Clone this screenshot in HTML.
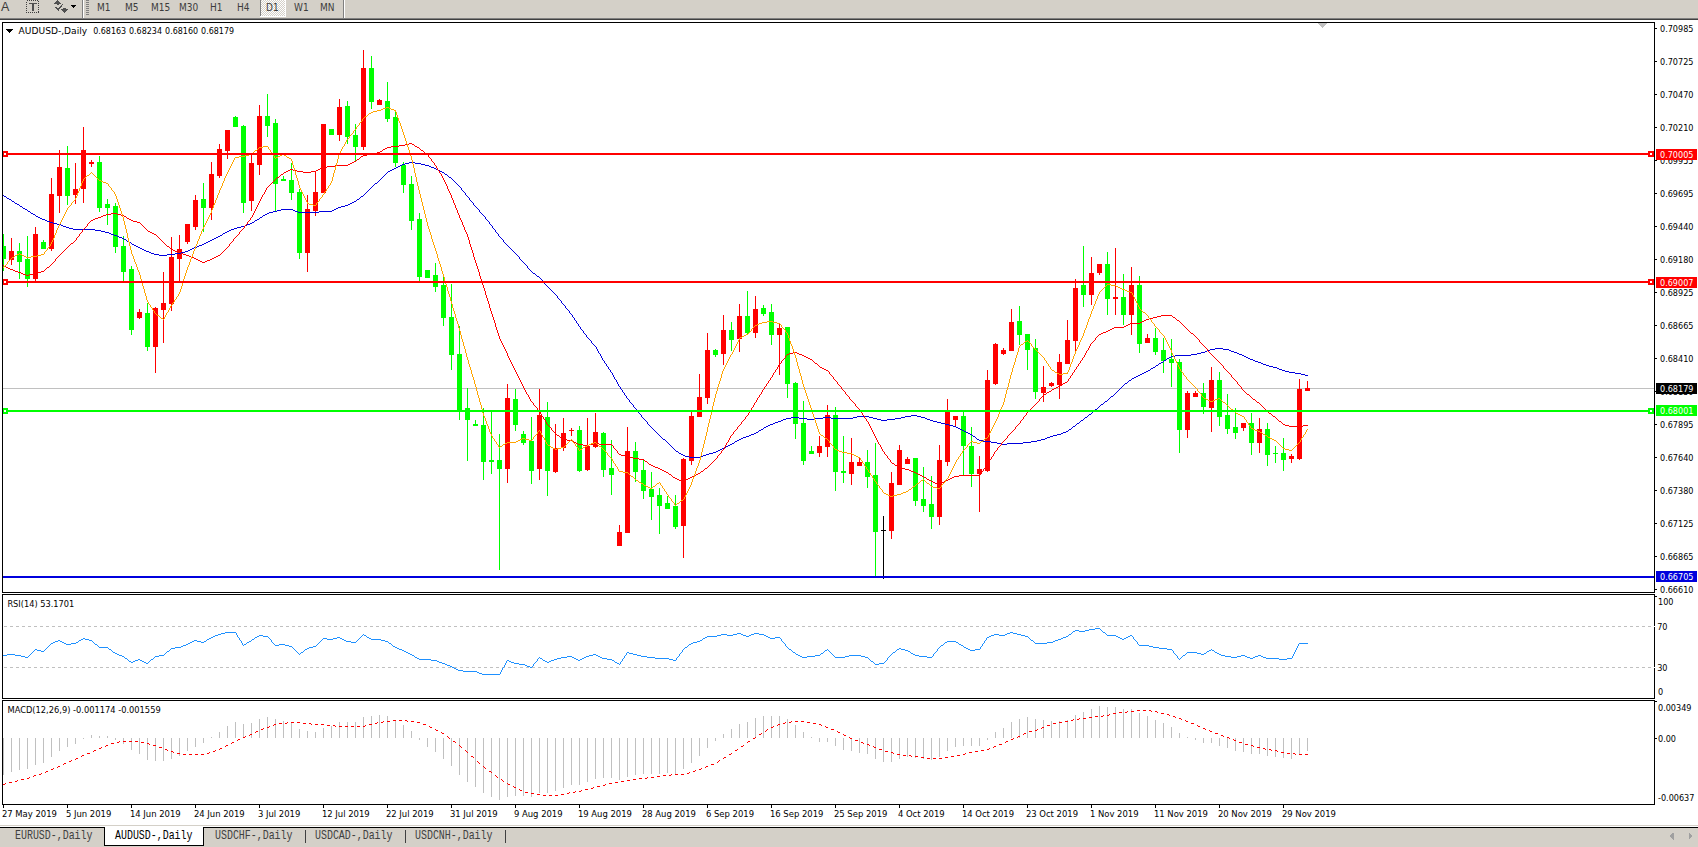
<!DOCTYPE html>
<html><head><meta charset="utf-8"><title>AUDUSD-,Daily</title>
<style>
html,body{margin:0;padding:0;background:#fff;}
body{width:1698px;height:847px;overflow:hidden;}
svg{display:block;}
.ax{font-family:"DejaVu Sans","Liberation Sans",sans-serif;font-stretch:condensed;font-size:9px;fill:#000;}
.tb{font-family:"DejaVu Sans","Liberation Sans",sans-serif;font-stretch:condensed;font-size:10px;fill:#3c3c3c;}
.tab{font-family:"Liberation Mono",monospace;font-size:10.5px;}
</style></head><body>
<svg width="1698" height="847" viewBox="0 0 1698 847" shape-rendering="crispEdges">
<defs><clipPath id="mainclip"><rect x="3" y="23" width="1651" height="569"/></clipPath></defs>
<rect x="0" y="0" width="1698" height="847" fill="#ffffff"/>
<rect x="0" y="0" width="1698" height="18" fill="#d4d0c8"/>
<rect x="0" y="18" width="1698" height="1" fill="#808080"/>
<rect x="0" y="19" width="1698" height="1" fill="#404040"/>
<text x="1" y="11" font-family="Liberation Sans, sans-serif" font-size="12.5" fill="#3a3a3a">A</text>
<rect x="26.5" y="0.5" width="12" height="12" fill="none" stroke="#404040" stroke-width="1" stroke-dasharray="1,1"/>
<rect x="29" y="3" width="8" height="1.4" fill="#505050"/>
<rect x="32" y="3" width="2.2" height="8" fill="#505050"/>
<path d="M54,3.8 L57.6,0 L61.2,3.8 Z" fill="#505050"/><rect x="56.5" y="3.5" width="2.4" height="1.3" fill="#505050"/>
<path d="M55.5,7 L58.3,9.8 L62.5,4.3" fill="none" stroke="#505050" stroke-width="1.3"/>
<path d="M61.2,9.4 L64.4,13 L67.8,9.4 Z" fill="#505050"/><rect x="63" y="8.2" width="2.6" height="1.4" fill="#505050"/>
<path d="M70.8,5 L76.2,5 L73.5,7.9 Z" fill="#000"/>
<rect x="82" y="0" width="1" height="18" fill="#808080"/><rect x="83" y="0" width="1" height="18" fill="#ffffff"/>
<rect x="86" y="0" width="3" height="1" fill="#808080"/>
<rect x="86" y="2" width="3" height="1" fill="#808080"/>
<rect x="86" y="4" width="3" height="1" fill="#808080"/>
<rect x="86" y="6" width="3" height="1" fill="#808080"/>
<rect x="86" y="8" width="3" height="1" fill="#808080"/>
<rect x="86" y="10" width="3" height="1" fill="#808080"/>
<rect x="86" y="12" width="3" height="1" fill="#808080"/>
<rect x="86" y="14" width="3" height="1" fill="#808080"/>
<defs><pattern id="dith" width="2" height="2" patternUnits="userSpaceOnUse"><rect width="2" height="2" fill="#d4d0c8"/><rect x="0" y="0" width="1" height="1" fill="#ffffff"/><rect x="1" y="1" width="1" height="1" fill="#ffffff"/></pattern></defs>
<rect x="260" y="0" width="26" height="17" fill="url(#dith)"/>
<rect x="260" y="0" width="1" height="17" fill="#808080"/><rect x="260" y="16" width="26" height="1" fill="#ffffff"/><rect x="285" y="0" width="1" height="17" fill="#ffffff"/>
<rect x="343" y="0" width="1" height="18" fill="#808080"/><rect x="344" y="0" width="1" height="18" fill="#ffffff"/>
<text x="97" y="10.5" class="tb">M1</text>
<text x="125" y="10.5" class="tb">M5</text>
<text x="151" y="10.5" class="tb">M15</text>
<text x="179" y="10.5" class="tb">M30</text>
<text x="210" y="10.5" class="tb">H1</text>
<text x="237" y="10.5" class="tb">H4</text>
<text x="266" y="10.5" class="tb">D1</text>
<text x="294" y="10.5" class="tb">W1</text>
<text x="320" y="10.5" class="tb">MN</text>
<rect x="3" y="388" width="1651" height="1" fill="#c0c0c0"/>
<rect x="3" y="234" width="1" height="37" fill="#00ff00"/>
<rect x="3" y="246" width="3" height="13" fill="#00ff00"/>
<rect x="11" y="238" width="1" height="27" fill="#ff0000"/>
<rect x="9" y="251" width="5" height="9" fill="#ff0000"/>
<rect x="19" y="243" width="1" height="36" fill="#00ff00"/>
<rect x="17" y="251" width="5" height="11" fill="#00ff00"/>
<rect x="27" y="236" width="1" height="51" fill="#00ff00"/>
<rect x="25" y="259" width="5" height="20" fill="#00ff00"/>
<rect x="35" y="227" width="1" height="56" fill="#ff0000"/>
<rect x="33" y="234" width="5" height="45" fill="#ff0000"/>
<rect x="43" y="240" width="1" height="9" fill="#00ff00"/>
<rect x="41" y="242" width="5" height="7" fill="#00ff00"/>
<rect x="51" y="178" width="1" height="73" fill="#ff0000"/>
<rect x="49" y="194" width="5" height="55" fill="#ff0000"/>
<rect x="59" y="150" width="1" height="63" fill="#ff0000"/>
<rect x="57" y="167" width="5" height="29" fill="#ff0000"/>
<rect x="67" y="146" width="1" height="59" fill="#00ff00"/>
<rect x="65" y="168" width="5" height="28" fill="#00ff00"/>
<rect x="75" y="163" width="1" height="41" fill="#ff0000"/>
<rect x="73" y="189" width="5" height="6" fill="#ff0000"/>
<rect x="83" y="127" width="1" height="76" fill="#ff0000"/>
<rect x="81" y="150" width="5" height="39" fill="#ff0000"/>
<rect x="91" y="160" width="1" height="7" fill="#ff0000"/>
<rect x="89" y="162" width="5" height="2" fill="#ff0000"/>
<rect x="99" y="156" width="1" height="56" fill="#00ff00"/>
<rect x="97" y="162" width="5" height="46" fill="#00ff00"/>
<rect x="107" y="199" width="1" height="26" fill="#00ff00"/>
<rect x="105" y="204" width="5" height="4" fill="#00ff00"/>
<rect x="115" y="203" width="1" height="50" fill="#00ff00"/>
<rect x="113" y="206" width="5" height="41" fill="#00ff00"/>
<rect x="123" y="236" width="1" height="45" fill="#00ff00"/>
<rect x="121" y="246" width="5" height="26" fill="#00ff00"/>
<rect x="131" y="266" width="1" height="69" fill="#00ff00"/>
<rect x="129" y="269" width="5" height="61" fill="#00ff00"/>
<rect x="139" y="309" width="1" height="10" fill="#ff0000"/>
<rect x="137" y="312" width="5" height="6" fill="#ff0000"/>
<rect x="147" y="303" width="1" height="48" fill="#00ff00"/>
<rect x="145" y="313" width="5" height="34" fill="#00ff00"/>
<rect x="155" y="307" width="1" height="66" fill="#ff0000"/>
<rect x="153" y="308" width="5" height="39" fill="#ff0000"/>
<rect x="163" y="272" width="1" height="71" fill="#ff0000"/>
<rect x="161" y="303" width="5" height="7" fill="#ff0000"/>
<rect x="171" y="237" width="1" height="74" fill="#ff0000"/>
<rect x="169" y="257" width="5" height="47" fill="#ff0000"/>
<rect x="179" y="235" width="1" height="46" fill="#ff0000"/>
<rect x="177" y="249" width="5" height="10" fill="#ff0000"/>
<rect x="187" y="224" width="1" height="20" fill="#ff0000"/>
<rect x="185" y="224" width="5" height="18" fill="#ff0000"/>
<rect x="195" y="195" width="1" height="35" fill="#ff0000"/>
<rect x="193" y="200" width="5" height="27" fill="#ff0000"/>
<rect x="203" y="183" width="1" height="49" fill="#00ff00"/>
<rect x="201" y="199" width="5" height="9" fill="#00ff00"/>
<rect x="211" y="162" width="1" height="58" fill="#ff0000"/>
<rect x="209" y="174" width="5" height="34" fill="#ff0000"/>
<rect x="219" y="144" width="1" height="34" fill="#ff0000"/>
<rect x="217" y="149" width="5" height="27" fill="#ff0000"/>
<rect x="227" y="130" width="1" height="29" fill="#ff0000"/>
<rect x="225" y="130" width="5" height="21" fill="#ff0000"/>
<rect x="235" y="116" width="1" height="11" fill="#00ff00"/>
<rect x="233" y="117" width="5" height="10" fill="#00ff00"/>
<rect x="243" y="125" width="1" height="88" fill="#00ff00"/>
<rect x="241" y="126" width="5" height="77" fill="#00ff00"/>
<rect x="251" y="155" width="1" height="56" fill="#ff0000"/>
<rect x="249" y="163" width="5" height="38" fill="#ff0000"/>
<rect x="259" y="105" width="1" height="70" fill="#ff0000"/>
<rect x="257" y="116" width="5" height="49" fill="#ff0000"/>
<rect x="267" y="94" width="1" height="43" fill="#00ff00"/>
<rect x="265" y="116" width="5" height="10" fill="#00ff00"/>
<rect x="275" y="119" width="1" height="93" fill="#00ff00"/>
<rect x="273" y="123" width="5" height="61" fill="#00ff00"/>
<rect x="283" y="176" width="1" height="5" fill="#00ff00"/>
<rect x="281" y="179" width="5" height="2" fill="#00ff00"/>
<rect x="291" y="163" width="1" height="37" fill="#00ff00"/>
<rect x="289" y="180" width="5" height="13" fill="#00ff00"/>
<rect x="299" y="189" width="1" height="70" fill="#00ff00"/>
<rect x="297" y="192" width="5" height="61" fill="#00ff00"/>
<rect x="307" y="195" width="1" height="77" fill="#ff0000"/>
<rect x="305" y="209" width="5" height="44" fill="#ff0000"/>
<rect x="315" y="171" width="1" height="45" fill="#ff0000"/>
<rect x="313" y="192" width="5" height="19" fill="#ff0000"/>
<rect x="323" y="124" width="1" height="69" fill="#ff0000"/>
<rect x="321" y="124" width="5" height="69" fill="#ff0000"/>
<rect x="331" y="129" width="1" height="6" fill="#00ff00"/>
<rect x="329" y="129" width="5" height="6" fill="#00ff00"/>
<rect x="339" y="99" width="1" height="42" fill="#ff0000"/>
<rect x="337" y="107" width="5" height="28" fill="#ff0000"/>
<rect x="347" y="101" width="1" height="43" fill="#00ff00"/>
<rect x="345" y="106" width="5" height="31" fill="#00ff00"/>
<rect x="355" y="124" width="1" height="38" fill="#00ff00"/>
<rect x="353" y="135" width="5" height="12" fill="#00ff00"/>
<rect x="363" y="50" width="1" height="100" fill="#ff0000"/>
<rect x="361" y="68" width="5" height="79" fill="#ff0000"/>
<rect x="371" y="56" width="1" height="53" fill="#00ff00"/>
<rect x="369" y="68" width="5" height="34" fill="#00ff00"/>
<rect x="379" y="99" width="1" height="6" fill="#ff0000"/>
<rect x="377" y="100" width="5" height="5" fill="#ff0000"/>
<rect x="387" y="82" width="1" height="40" fill="#00ff00"/>
<rect x="385" y="101" width="5" height="18" fill="#00ff00"/>
<rect x="395" y="111" width="1" height="56" fill="#00ff00"/>
<rect x="393" y="117" width="5" height="46" fill="#00ff00"/>
<rect x="403" y="162" width="1" height="31" fill="#00ff00"/>
<rect x="401" y="165" width="5" height="20" fill="#00ff00"/>
<rect x="411" y="176" width="1" height="54" fill="#00ff00"/>
<rect x="409" y="184" width="5" height="37" fill="#00ff00"/>
<rect x="419" y="213" width="1" height="69" fill="#00ff00"/>
<rect x="417" y="219" width="5" height="58" fill="#00ff00"/>
<rect x="427" y="270" width="1" height="8" fill="#00ff00"/>
<rect x="425" y="270" width="5" height="8" fill="#00ff00"/>
<rect x="435" y="263" width="1" height="29" fill="#00ff00"/>
<rect x="433" y="275" width="5" height="12" fill="#00ff00"/>
<rect x="443" y="274" width="1" height="52" fill="#00ff00"/>
<rect x="441" y="285" width="5" height="33" fill="#00ff00"/>
<rect x="451" y="284" width="1" height="86" fill="#00ff00"/>
<rect x="449" y="317" width="5" height="38" fill="#00ff00"/>
<rect x="459" y="326" width="1" height="94" fill="#00ff00"/>
<rect x="457" y="354" width="5" height="58" fill="#00ff00"/>
<rect x="467" y="388" width="1" height="73" fill="#00ff00"/>
<rect x="465" y="408" width="5" height="12" fill="#00ff00"/>
<rect x="475" y="420" width="1" height="6" fill="#00ff00"/>
<rect x="473" y="424" width="5" height="2" fill="#00ff00"/>
<rect x="483" y="408" width="1" height="72" fill="#00ff00"/>
<rect x="481" y="425" width="5" height="37" fill="#00ff00"/>
<rect x="491" y="412" width="1" height="62" fill="#00ff00"/>
<rect x="489" y="460" width="5" height="2" fill="#00ff00"/>
<rect x="499" y="434" width="1" height="136" fill="#00ff00"/>
<rect x="497" y="460" width="5" height="9" fill="#00ff00"/>
<rect x="507" y="384" width="1" height="99" fill="#ff0000"/>
<rect x="505" y="398" width="5" height="71" fill="#ff0000"/>
<rect x="515" y="389" width="1" height="42" fill="#00ff00"/>
<rect x="513" y="399" width="5" height="26" fill="#00ff00"/>
<rect x="523" y="431" width="1" height="14" fill="#00ff00"/>
<rect x="521" y="434" width="5" height="9" fill="#00ff00"/>
<rect x="531" y="417" width="1" height="67" fill="#00ff00"/>
<rect x="529" y="441" width="5" height="30" fill="#00ff00"/>
<rect x="539" y="389" width="1" height="91" fill="#ff0000"/>
<rect x="537" y="415" width="5" height="54" fill="#ff0000"/>
<rect x="547" y="402" width="1" height="94" fill="#00ff00"/>
<rect x="545" y="417" width="5" height="54" fill="#00ff00"/>
<rect x="555" y="424" width="1" height="49" fill="#ff0000"/>
<rect x="553" y="448" width="5" height="24" fill="#ff0000"/>
<rect x="563" y="418" width="1" height="33" fill="#ff0000"/>
<rect x="561" y="433" width="5" height="15" fill="#ff0000"/>
<rect x="571" y="428" width="1" height="8" fill="#ff0000"/>
<rect x="569" y="430" width="5" height="1" fill="#ff0000"/>
<rect x="579" y="426" width="1" height="46" fill="#00ff00"/>
<rect x="577" y="430" width="5" height="41" fill="#00ff00"/>
<rect x="587" y="418" width="1" height="53" fill="#ff0000"/>
<rect x="585" y="446" width="5" height="24" fill="#ff0000"/>
<rect x="595" y="413" width="1" height="35" fill="#ff0000"/>
<rect x="593" y="432" width="5" height="15" fill="#ff0000"/>
<rect x="603" y="432" width="1" height="45" fill="#00ff00"/>
<rect x="601" y="433" width="5" height="37" fill="#00ff00"/>
<rect x="611" y="440" width="1" height="55" fill="#00ff00"/>
<rect x="609" y="468" width="5" height="7" fill="#00ff00"/>
<rect x="619" y="525" width="1" height="21" fill="#ff0000"/>
<rect x="617" y="532" width="5" height="14" fill="#ff0000"/>
<rect x="627" y="427" width="1" height="106" fill="#ff0000"/>
<rect x="625" y="451" width="5" height="82" fill="#ff0000"/>
<rect x="635" y="442" width="1" height="40" fill="#00ff00"/>
<rect x="633" y="451" width="5" height="21" fill="#00ff00"/>
<rect x="643" y="460" width="1" height="39" fill="#00ff00"/>
<rect x="641" y="470" width="5" height="21" fill="#00ff00"/>
<rect x="651" y="472" width="1" height="48" fill="#00ff00"/>
<rect x="649" y="489" width="5" height="8" fill="#00ff00"/>
<rect x="659" y="488" width="1" height="46" fill="#00ff00"/>
<rect x="657" y="495" width="5" height="11" fill="#00ff00"/>
<rect x="667" y="496" width="1" height="13" fill="#00ff00"/>
<rect x="665" y="503" width="5" height="6" fill="#00ff00"/>
<rect x="675" y="495" width="1" height="34" fill="#00ff00"/>
<rect x="673" y="506" width="5" height="21" fill="#00ff00"/>
<rect x="683" y="458" width="1" height="100" fill="#ff0000"/>
<rect x="681" y="459" width="5" height="67" fill="#ff0000"/>
<rect x="691" y="411" width="1" height="54" fill="#ff0000"/>
<rect x="689" y="416" width="5" height="45" fill="#ff0000"/>
<rect x="699" y="374" width="1" height="43" fill="#ff0000"/>
<rect x="697" y="397" width="5" height="20" fill="#ff0000"/>
<rect x="707" y="333" width="1" height="71" fill="#ff0000"/>
<rect x="705" y="350" width="5" height="48" fill="#ff0000"/>
<rect x="715" y="349" width="1" height="8" fill="#00ff00"/>
<rect x="713" y="350" width="5" height="5" fill="#00ff00"/>
<rect x="723" y="315" width="1" height="50" fill="#ff0000"/>
<rect x="721" y="330" width="5" height="24" fill="#ff0000"/>
<rect x="731" y="322" width="1" height="29" fill="#00ff00"/>
<rect x="729" y="330" width="5" height="10" fill="#00ff00"/>
<rect x="739" y="304" width="1" height="48" fill="#ff0000"/>
<rect x="737" y="316" width="5" height="23" fill="#ff0000"/>
<rect x="747" y="291" width="1" height="43" fill="#00ff00"/>
<rect x="745" y="316" width="5" height="17" fill="#00ff00"/>
<rect x="755" y="296" width="1" height="42" fill="#ff0000"/>
<rect x="753" y="309" width="5" height="24" fill="#ff0000"/>
<rect x="763" y="305" width="1" height="11" fill="#00ff00"/>
<rect x="761" y="308" width="5" height="6" fill="#00ff00"/>
<rect x="771" y="304" width="1" height="41" fill="#00ff00"/>
<rect x="769" y="312" width="5" height="23" fill="#00ff00"/>
<rect x="779" y="324" width="1" height="51" fill="#ff0000"/>
<rect x="777" y="328" width="5" height="7" fill="#ff0000"/>
<rect x="787" y="327" width="1" height="71" fill="#00ff00"/>
<rect x="785" y="327" width="5" height="57" fill="#00ff00"/>
<rect x="795" y="382" width="1" height="57" fill="#00ff00"/>
<rect x="793" y="383" width="5" height="41" fill="#00ff00"/>
<rect x="803" y="401" width="1" height="64" fill="#00ff00"/>
<rect x="801" y="423" width="5" height="38" fill="#00ff00"/>
<rect x="811" y="446" width="1" height="8" fill="#00ff00"/>
<rect x="809" y="451" width="5" height="3" fill="#00ff00"/>
<rect x="819" y="436" width="1" height="21" fill="#ff0000"/>
<rect x="817" y="446" width="5" height="7" fill="#ff0000"/>
<rect x="827" y="405" width="1" height="52" fill="#ff0000"/>
<rect x="825" y="415" width="5" height="32" fill="#ff0000"/>
<rect x="835" y="407" width="1" height="84" fill="#00ff00"/>
<rect x="833" y="415" width="5" height="57" fill="#00ff00"/>
<rect x="843" y="436" width="1" height="47" fill="#00ff00"/>
<rect x="841" y="471" width="5" height="2" fill="#00ff00"/>
<rect x="851" y="438" width="1" height="47" fill="#ff0000"/>
<rect x="849" y="462" width="5" height="12" fill="#ff0000"/>
<rect x="859" y="457" width="1" height="9" fill="#ff0000"/>
<rect x="857" y="462" width="5" height="4" fill="#ff0000"/>
<rect x="867" y="450" width="1" height="38" fill="#00ff00"/>
<rect x="865" y="462" width="5" height="15" fill="#00ff00"/>
<rect x="875" y="443" width="1" height="134" fill="#00ff00"/>
<rect x="873" y="475" width="5" height="57" fill="#00ff00"/>
<rect x="883" y="516" width="1" height="63" fill="#000000"/>
<rect x="881" y="530" width="5" height="1" fill="#000000"/>
<rect x="891" y="472" width="1" height="67" fill="#ff0000"/>
<rect x="889" y="483" width="5" height="48" fill="#ff0000"/>
<rect x="899" y="445" width="1" height="40" fill="#ff0000"/>
<rect x="897" y="450" width="5" height="35" fill="#ff0000"/>
<rect x="907" y="457" width="1" height="7" fill="#ff0000"/>
<rect x="905" y="459" width="5" height="5" fill="#ff0000"/>
<rect x="915" y="458" width="1" height="48" fill="#00ff00"/>
<rect x="913" y="458" width="5" height="43" fill="#00ff00"/>
<rect x="923" y="467" width="1" height="45" fill="#00ff00"/>
<rect x="921" y="499" width="5" height="7" fill="#00ff00"/>
<rect x="931" y="476" width="1" height="53" fill="#00ff00"/>
<rect x="929" y="504" width="5" height="13" fill="#00ff00"/>
<rect x="939" y="445" width="1" height="80" fill="#ff0000"/>
<rect x="937" y="460" width="5" height="57" fill="#ff0000"/>
<rect x="947" y="399" width="1" height="67" fill="#ff0000"/>
<rect x="945" y="412" width="5" height="50" fill="#ff0000"/>
<rect x="955" y="416" width="1" height="11" fill="#ff0000"/>
<rect x="953" y="416" width="5" height="4" fill="#ff0000"/>
<rect x="963" y="412" width="1" height="63" fill="#00ff00"/>
<rect x="961" y="416" width="5" height="30" fill="#00ff00"/>
<rect x="971" y="427" width="1" height="60" fill="#00ff00"/>
<rect x="969" y="446" width="5" height="28" fill="#00ff00"/>
<rect x="979" y="456" width="1" height="56" fill="#ff0000"/>
<rect x="977" y="469" width="5" height="5" fill="#ff0000"/>
<rect x="987" y="370" width="1" height="102" fill="#ff0000"/>
<rect x="985" y="380" width="5" height="91" fill="#ff0000"/>
<rect x="995" y="343" width="1" height="42" fill="#ff0000"/>
<rect x="993" y="344" width="5" height="40" fill="#ff0000"/>
<rect x="1003" y="348" width="1" height="7" fill="#ff0000"/>
<rect x="1001" y="350" width="5" height="4" fill="#ff0000"/>
<rect x="1011" y="309" width="1" height="42" fill="#ff0000"/>
<rect x="1009" y="322" width="5" height="29" fill="#ff0000"/>
<rect x="1019" y="306" width="1" height="39" fill="#00ff00"/>
<rect x="1017" y="321" width="5" height="14" fill="#00ff00"/>
<rect x="1027" y="334" width="1" height="36" fill="#00ff00"/>
<rect x="1025" y="334" width="5" height="16" fill="#00ff00"/>
<rect x="1035" y="339" width="1" height="60" fill="#00ff00"/>
<rect x="1033" y="348" width="5" height="44" fill="#00ff00"/>
<rect x="1043" y="366" width="1" height="36" fill="#ff0000"/>
<rect x="1041" y="387" width="5" height="6" fill="#ff0000"/>
<rect x="1051" y="382" width="1" height="5" fill="#ff0000"/>
<rect x="1049" y="383" width="5" height="3" fill="#ff0000"/>
<rect x="1059" y="354" width="1" height="45" fill="#ff0000"/>
<rect x="1057" y="362" width="5" height="23" fill="#ff0000"/>
<rect x="1067" y="320" width="1" height="44" fill="#ff0000"/>
<rect x="1065" y="340" width="5" height="24" fill="#ff0000"/>
<rect x="1075" y="279" width="1" height="73" fill="#ff0000"/>
<rect x="1073" y="288" width="5" height="53" fill="#ff0000"/>
<rect x="1083" y="246" width="1" height="61" fill="#00ff00"/>
<rect x="1081" y="285" width="5" height="10" fill="#00ff00"/>
<rect x="1091" y="257" width="1" height="48" fill="#ff0000"/>
<rect x="1089" y="273" width="5" height="22" fill="#ff0000"/>
<rect x="1099" y="264" width="1" height="11" fill="#ff0000"/>
<rect x="1097" y="264" width="5" height="9" fill="#ff0000"/>
<rect x="1107" y="252" width="1" height="63" fill="#00ff00"/>
<rect x="1105" y="264" width="5" height="35" fill="#00ff00"/>
<rect x="1115" y="248" width="1" height="67" fill="#ff0000"/>
<rect x="1113" y="297" width="5" height="2" fill="#ff0000"/>
<rect x="1123" y="274" width="1" height="51" fill="#00ff00"/>
<rect x="1121" y="297" width="5" height="18" fill="#00ff00"/>
<rect x="1131" y="267" width="1" height="68" fill="#ff0000"/>
<rect x="1129" y="285" width="5" height="30" fill="#ff0000"/>
<rect x="1139" y="276" width="1" height="77" fill="#00ff00"/>
<rect x="1137" y="285" width="5" height="59" fill="#00ff00"/>
<rect x="1147" y="334" width="1" height="9" fill="#ff0000"/>
<rect x="1145" y="338" width="5" height="5" fill="#ff0000"/>
<rect x="1155" y="328" width="1" height="27" fill="#00ff00"/>
<rect x="1153" y="338" width="5" height="14" fill="#00ff00"/>
<rect x="1163" y="338" width="1" height="35" fill="#00ff00"/>
<rect x="1161" y="350" width="5" height="11" fill="#00ff00"/>
<rect x="1171" y="339" width="1" height="48" fill="#00ff00"/>
<rect x="1169" y="359" width="5" height="4" fill="#00ff00"/>
<rect x="1179" y="359" width="1" height="94" fill="#00ff00"/>
<rect x="1177" y="362" width="5" height="68" fill="#00ff00"/>
<rect x="1187" y="391" width="1" height="47" fill="#ff0000"/>
<rect x="1185" y="393" width="5" height="37" fill="#ff0000"/>
<rect x="1195" y="391" width="1" height="6" fill="#ff0000"/>
<rect x="1193" y="393" width="5" height="4" fill="#ff0000"/>
<rect x="1203" y="383" width="1" height="31" fill="#00ff00"/>
<rect x="1201" y="393" width="5" height="14" fill="#00ff00"/>
<rect x="1211" y="367" width="1" height="65" fill="#ff0000"/>
<rect x="1209" y="380" width="5" height="28" fill="#ff0000"/>
<rect x="1219" y="372" width="1" height="54" fill="#00ff00"/>
<rect x="1217" y="380" width="5" height="37" fill="#00ff00"/>
<rect x="1227" y="394" width="1" height="40" fill="#00ff00"/>
<rect x="1225" y="415" width="5" height="14" fill="#00ff00"/>
<rect x="1235" y="408" width="1" height="31" fill="#00ff00"/>
<rect x="1233" y="427" width="5" height="6" fill="#00ff00"/>
<rect x="1243" y="423" width="1" height="8" fill="#ff0000"/>
<rect x="1241" y="423" width="5" height="5" fill="#ff0000"/>
<rect x="1251" y="413" width="1" height="42" fill="#00ff00"/>
<rect x="1249" y="423" width="5" height="20" fill="#00ff00"/>
<rect x="1259" y="418" width="1" height="35" fill="#ff0000"/>
<rect x="1257" y="429" width="5" height="14" fill="#ff0000"/>
<rect x="1267" y="423" width="1" height="43" fill="#00ff00"/>
<rect x="1265" y="429" width="5" height="26" fill="#00ff00"/>
<rect x="1275" y="446" width="1" height="17" fill="#00ff00"/>
<rect x="1273" y="453" width="5" height="1" fill="#00ff00"/>
<rect x="1283" y="438" width="1" height="33" fill="#00ff00"/>
<rect x="1281" y="453" width="5" height="7" fill="#00ff00"/>
<rect x="1291" y="454" width="1" height="9" fill="#ff0000"/>
<rect x="1289" y="456" width="5" height="3" fill="#ff0000"/>
<rect x="1299" y="379" width="1" height="81" fill="#ff0000"/>
<rect x="1297" y="389" width="5" height="70" fill="#ff0000"/>
<rect x="1307" y="381" width="1" height="10" fill="#ff0000"/>
<rect x="1305" y="388" width="5" height="3" fill="#ff0000"/>
<path d="M409 162h6v1h-6zM405 163h4v1h-4zM415 163h6v1h-6zM402 164h3v1h-3zM421 164h4v1h-4zM400 165h2v1h-2zM425 165h4v1h-4zM398 166h2v1h-2zM429 166h2v1h-2zM396 167h2v1h-2zM431 167h3v1h-3zM394 168h2v1h-2zM434 168h2v1h-2zM392 169h2v1h-2zM436 169h2v1h-2zM390 170h2v1h-2zM438 170h2v1h-2zM388 171h2v1h-2zM440 171h2v1h-2zM442 172h2v1h-2zM445 174h2v1h-2zM449 177h2v1h-2zM375 183h2v1h-2zM4 196h2v1h-2zM361 196h2v1h-2zM7 198h2v1h-2zM9 199h2v1h-2zM357 199h2v1h-2zM12 201h2v1h-2zM354 201h2v1h-2zM352 202h2v1h-2zM15 203h2v1h-2zM350 203h2v1h-2zM17 204h2v1h-2zM348 204h2v1h-2zM345 205h3v1h-3zM20 206h2v1h-2zM341 206h4v1h-4zM338 207h3v1h-3zM23 208h2v1h-2zM336 208h2v1h-2zM25 209h2v1h-2zM281 209h12v1h-12zM334 209h2v1h-2zM277 210h4v1h-4zM293 210h2v1h-2zM332 210h2v1h-2zM28 211h2v1h-2zM273 211h4v1h-4zM295 211h3v1h-3zM319 211h13v1h-13zM269 212h4v1h-4zM298 212h21v1h-21zM31 213h2v1h-2zM267 213h2v1h-2zM33 214h2v1h-2zM265 214h2v1h-2zM263 215h2v1h-2zM36 216h2v1h-2zM38 217h2v1h-2zM260 217h2v1h-2zM40 218h2v1h-2zM42 219h3v1h-3zM257 219h2v1h-2zM45 220h2v1h-2zM255 220h2v1h-2zM47 221h3v1h-3zM50 222h3v1h-3zM252 222h2v1h-2zM53 223h4v1h-4zM250 223h2v1h-2zM57 224h4v1h-4zM247 224h3v1h-3zM61 225h2v1h-2zM245 225h2v1h-2zM63 226h3v1h-3zM241 226h4v1h-4zM66 227h3v1h-3zM237 227h4v1h-4zM69 228h4v1h-4zM234 228h3v1h-3zM73 229h22v1h-22zM231 229h3v1h-3zM95 230h6v1h-6zM229 230h2v1h-2zM101 231h4v1h-4zM227 231h2v1h-2zM105 232h4v1h-4zM225 232h2v1h-2zM109 233h2v1h-2zM223 233h2v1h-2zM111 234h3v1h-3zM114 235h3v1h-3zM220 235h2v1h-2zM117 236h2v1h-2zM218 236h2v1h-2zM119 237h3v1h-3zM216 237h2v1h-2zM122 238h2v1h-2zM214 238h2v1h-2zM124 239h2v1h-2zM212 239h2v1h-2zM210 240h2v1h-2zM127 241h2v1h-2zM208 241h2v1h-2zM129 242h2v1h-2zM206 242h2v1h-2zM204 243h2v1h-2zM132 244h2v1h-2zM202 244h2v1h-2zM134 245h2v1h-2zM199 245h3v1h-3zM136 246h2v1h-2zM197 246h2v1h-2zM138 247h2v1h-2zM194 247h3v1h-3zM140 248h2v1h-2zM192 248h2v1h-2zM142 249h2v1h-2zM190 249h2v1h-2zM144 250h2v1h-2zM188 250h2v1h-2zM146 251h3v1h-3zM185 251h3v1h-3zM149 252h2v1h-2zM181 252h4v1h-4zM151 253h3v1h-3zM175 253h6v1h-6zM154 254h5v1h-5zM167 254h8v1h-8zM159 255h8v1h-8zM533 273h2v1h-2zM537 276h2v1h-2zM1215 348h8v1h-8zM1210 349h5v1h-5zM1223 349h6v1h-6zM1207 350h3v1h-3zM1229 350h2v1h-2zM1205 351h2v1h-2zM1231 351h3v1h-3zM1201 352h4v1h-4zM1234 352h3v1h-3zM1197 353h4v1h-4zM1237 353h2v1h-2zM1191 354h6v1h-6zM1239 354h3v1h-3zM1175 355h16v1h-16zM1242 355h2v1h-2zM1171 356h4v1h-4zM1244 356h2v1h-2zM1169 357h2v1h-2zM1246 357h2v1h-2zM1167 358h2v1h-2zM1248 358h2v1h-2zM1250 359h3v1h-3zM1164 360h2v1h-2zM1253 360h2v1h-2zM1255 361h3v1h-3zM1161 362h2v1h-2zM1258 362h3v1h-3zM1159 363h2v1h-2zM1261 363h2v1h-2zM1263 364h3v1h-3zM1156 365h2v1h-2zM1266 365h3v1h-3zM1269 366h4v1h-4zM1153 367h2v1h-2zM1273 367h4v1h-4zM1151 368h2v1h-2zM1277 368h2v1h-2zM1279 369h3v1h-3zM1148 370h2v1h-2zM1282 370h3v1h-3zM1146 371h2v1h-2zM1285 371h4v1h-4zM1144 372h2v1h-2zM1289 372h6v1h-6zM1142 373h2v1h-2zM1295 373h6v1h-6zM1140 374h2v1h-2zM1301 374h4v1h-4zM1138 375h2v1h-2zM1305 375h3v1h-3zM1136 376h2v1h-2zM1134 377h2v1h-2zM1132 378h2v1h-2zM1129 380h2v1h-2zM1125 383h2v1h-2zM1111 396h2v1h-2zM1105 401h2v1h-2zM1101 404h2v1h-2zM1095 409h2v1h-2zM1089 414h2v1h-2zM911 415h6v1h-6zM857 416h12v1h-12zM905 416h6v1h-6zM917 416h4v1h-4zM791 417h8v1h-8zM823 417h8v1h-8zM853 417h4v1h-4zM869 417h4v1h-4zM901 417h4v1h-4zM921 417h4v1h-4zM1085 417h2v1h-2zM786 418h5v1h-5zM799 418h8v1h-8zM815 418h8v1h-8zM831 418h22v1h-22zM873 418h4v1h-4zM895 418h6v1h-6zM925 418h2v1h-2zM783 419h3v1h-3zM807 419h8v1h-8zM877 419h4v1h-4zM887 419h8v1h-8zM927 419h3v1h-3zM781 420h2v1h-2zM881 420h6v1h-6zM930 420h3v1h-3zM1081 420h2v1h-2zM778 421h3v1h-3zM933 421h4v1h-4zM775 422h3v1h-3zM937 422h4v1h-4zM773 423h2v1h-2zM941 423h4v1h-4zM1077 423h2v1h-2zM770 424h3v1h-3zM945 424h4v1h-4zM768 425h2v1h-2zM949 425h4v1h-4zM766 426h2v1h-2zM953 426h3v1h-3zM1073 426h2v1h-2zM764 427h2v1h-2zM956 427h2v1h-2zM958 428h2v1h-2zM761 429h2v1h-2zM960 429h2v1h-2zM1069 429h2v1h-2zM759 430h2v1h-2zM962 430h2v1h-2zM964 431h2v1h-2zM1066 431h2v1h-2zM756 432h2v1h-2zM966 432h2v1h-2zM1063 432h3v1h-3zM754 433h2v1h-2zM968 433h2v1h-2zM1061 433h2v1h-2zM751 434h3v1h-3zM970 434h2v1h-2zM1057 434h4v1h-4zM749 435h2v1h-2zM1053 435h4v1h-4zM746 436h3v1h-3zM973 436h2v1h-2zM1050 436h3v1h-3zM743 437h3v1h-3zM1047 437h3v1h-3zM741 438h2v1h-2zM1045 438h2v1h-2zM663 439h2v1h-2zM739 439h2v1h-2zM977 439h2v1h-2zM1041 439h4v1h-4zM737 440h2v1h-2zM979 440h4v1h-4zM1037 440h4v1h-4zM735 441h2v1h-2zM983 441h8v1h-8zM1031 441h6v1h-6zM991 442h6v1h-6zM1023 442h8v1h-8zM732 443h2v1h-2zM997 443h4v1h-4zM1007 443h16v1h-16zM730 444h2v1h-2zM1001 444h6v1h-6zM728 445h2v1h-2zM726 446h2v1h-2zM724 447h2v1h-2zM722 448h2v1h-2zM720 449h2v1h-2zM718 450h2v1h-2zM676 451h2v1h-2zM716 451h2v1h-2zM713 452h3v1h-3zM679 453h2v1h-2zM709 453h4v1h-4zM681 454h2v1h-2zM706 454h3v1h-3zM683 455h2v1h-2zM703 455h3v1h-3zM685 456h4v1h-4zM701 456h2v1h-2zM689 457h12v1h-12zM3 195h1v1h-1zM6 197h1v1h-1zM11 200h1v1h-1zM14 202h1v1h-1zM19 205h1v1h-1zM22 207h1v1h-1zM27 210h1v1h-1zM30 212h1v1h-1zM35 215h1v1h-1zM126 240h1v1h-1zM131 243h1v1h-1zM222 234h1v1h-1zM254 221h1v1h-1zM259 218h1v1h-1zM262 216h1v1h-1zM356 200h1v1h-1zM359 198h1v1h-1zM360 197h1v1h-1zM363 195h1v1h-1zM364 194h1v1h-1zM365 193h1v1h-1zM366 192h1v1h-1zM367 191h1v1h-1zM368 190h1v1h-1zM369 189h1v1h-1zM370 188h1v1h-1zM371 187h1v1h-1zM372 186h1v1h-1zM373 185h1v1h-1zM374 184h1v1h-1zM377 182h1v1h-1zM378 181h1v1h-1zM379 180h1v1h-1zM380 179h1v1h-1zM381 178h1v1h-1zM382 177h1v1h-1zM383 176h1v1h-1zM384 175h1v1h-1zM385 174h1v1h-1zM386 173h1v1h-1zM387 172h1v1h-1zM444 173h1v1h-1zM447 175h1v1h-1zM448 176h1v1h-1zM451 178h1v1h-1zM452 179h1v1h-1zM453 180h1v1h-1zM454 181h1v1h-1zM455 182h1v1h-1zM456 183h1v1h-1zM457 184h1v1h-1zM458 185h1v1h-1zM459 186h1v1h-1zM460 187h1v1h-1zM461 188h1v2h-1zM462 190h1v1h-1zM463 191h1v1h-1zM464 192h1v1h-1zM465 193h1v2h-1zM466 195h1v1h-1zM467 196h1v1h-1zM468 197h1v1h-1zM469 198h1v2h-1zM470 200h1v1h-1zM471 201h1v1h-1zM472 202h1v1h-1zM473 203h1v2h-1zM474 205h1v1h-1zM475 206h1v1h-1zM476 207h1v1h-1zM477 208h1v1h-1zM478 209h1v1h-1zM479 210h1v2h-1zM480 212h1v1h-1zM481 213h1v1h-1zM482 214h1v1h-1zM483 215h1v1h-1zM484 216h1v1h-1zM485 217h1v2h-1zM486 219h1v1h-1zM487 220h1v1h-1zM488 221h1v1h-1zM489 222h1v2h-1zM490 224h1v1h-1zM491 225h1v1h-1zM492 226h1v2h-1zM493 228h1v1h-1zM494 229h1v1h-1zM495 230h1v2h-1zM496 232h1v1h-1zM497 233h1v1h-1zM498 234h1v2h-1zM499 236h1v1h-1zM500 237h1v1h-1zM501 238h1v1h-1zM502 239h1v1h-1zM503 240h1v2h-1zM504 242h1v1h-1zM505 243h1v1h-1zM506 244h1v1h-1zM507 245h1v1h-1zM508 246h1v1h-1zM509 247h1v1h-1zM510 248h1v1h-1zM511 249h1v1h-1zM512 250h1v1h-1zM513 251h1v1h-1zM514 252h1v1h-1zM515 253h1v1h-1zM516 254h1v1h-1zM517 255h1v1h-1zM518 256h1v1h-1zM519 257h1v2h-1zM520 259h1v1h-1zM521 260h1v1h-1zM522 261h1v1h-1zM523 262h1v1h-1zM524 263h1v1h-1zM525 264h1v1h-1zM526 265h1v1h-1zM527 266h1v2h-1zM528 268h1v1h-1zM529 269h1v1h-1zM530 270h1v1h-1zM531 271h1v1h-1zM532 272h1v1h-1zM535 274h1v1h-1zM536 275h1v1h-1zM539 277h1v1h-1zM540 278h1v1h-1zM541 279h1v1h-1zM542 280h1v1h-1zM543 281h1v2h-1zM544 283h1v1h-1zM545 284h1v1h-1zM546 285h1v1h-1zM547 286h1v1h-1zM548 287h1v1h-1zM549 288h1v1h-1zM550 289h1v1h-1zM551 290h1v1h-1zM552 291h1v1h-1zM553 292h1v1h-1zM554 293h1v1h-1zM555 294h1v1h-1zM556 295h1v1h-1zM557 296h1v2h-1zM558 298h1v1h-1zM559 299h1v1h-1zM560 300h1v1h-1zM561 301h1v2h-1zM562 303h1v1h-1zM563 304h1v1h-1zM564 305h1v1h-1zM565 306h1v2h-1zM566 308h1v1h-1zM567 309h1v1h-1zM568 310h1v1h-1zM569 311h1v2h-1zM570 313h1v1h-1zM571 314h1v1h-1zM572 315h1v2h-1zM573 317h1v1h-1zM574 318h1v2h-1zM575 320h1v1h-1zM576 321h1v2h-1zM577 323h1v1h-1zM578 324h1v2h-1zM579 326h1v1h-1zM580 327h1v2h-1zM581 329h1v1h-1zM582 330h1v1h-1zM583 331h1v2h-1zM584 333h1v1h-1zM585 334h1v1h-1zM586 335h1v2h-1zM587 337h1v1h-1zM588 338h1v1h-1zM589 339h1v1h-1zM590 340h1v1h-1zM591 341h1v2h-1zM592 343h1v1h-1zM593 344h1v1h-1zM594 345h1v1h-1zM595 346h1v1h-1zM596 347h1v2h-1zM597 349h1v2h-1zM598 351h1v2h-1zM599 353h1v1h-1zM600 354h1v2h-1zM601 356h1v2h-1zM602 358h1v2h-1zM603 360h1v1h-1zM604 361h1v2h-1zM605 363h1v1h-1zM606 364h1v2h-1zM607 366h1v1h-1zM608 367h1v2h-1zM609 369h1v1h-1zM610 370h1v2h-1zM611 372h1v1h-1zM612 373h1v2h-1zM613 375h1v2h-1zM614 377h1v2h-1zM615 379h1v1h-1zM616 380h1v2h-1zM617 382h1v2h-1zM618 384h1v2h-1zM619 386h1v1h-1zM620 387h1v2h-1zM621 389h1v1h-1zM622 390h1v2h-1zM623 392h1v1h-1zM624 393h1v2h-1zM625 395h1v1h-1zM626 396h1v2h-1zM627 398h1v1h-1zM628 399h1v1h-1zM629 400h1v2h-1zM630 402h1v1h-1zM631 403h1v1h-1zM632 404h1v1h-1zM633 405h1v2h-1zM634 407h1v1h-1zM635 408h1v1h-1zM636 409h1v1h-1zM637 410h1v2h-1zM638 412h1v1h-1zM639 413h1v1h-1zM640 414h1v1h-1zM641 415h1v2h-1zM642 417h1v1h-1zM643 418h1v1h-1zM644 419h1v1h-1zM645 420h1v1h-1zM646 421h1v1h-1zM647 422h1v2h-1zM648 424h1v1h-1zM649 425h1v1h-1zM650 426h1v1h-1zM651 427h1v1h-1zM652 428h1v1h-1zM653 429h1v1h-1zM654 430h1v1h-1zM655 431h1v1h-1zM656 432h1v1h-1zM657 433h1v1h-1zM658 434h1v1h-1zM659 435h1v1h-1zM660 436h1v1h-1zM661 437h1v1h-1zM662 438h1v1h-1zM665 440h1v1h-1zM666 441h1v1h-1zM667 442h1v1h-1zM668 443h1v1h-1zM669 444h1v1h-1zM670 445h1v1h-1zM671 446h1v1h-1zM672 447h1v1h-1zM673 448h1v1h-1zM674 449h1v1h-1zM675 450h1v1h-1zM678 452h1v1h-1zM734 442h1v1h-1zM758 431h1v1h-1zM763 428h1v1h-1zM972 435h1v1h-1zM975 437h1v1h-1zM976 438h1v1h-1zM1068 430h1v1h-1zM1071 428h1v1h-1zM1072 427h1v1h-1zM1075 425h1v1h-1zM1076 424h1v1h-1zM1079 422h1v1h-1zM1080 421h1v1h-1zM1083 419h1v1h-1zM1084 418h1v1h-1zM1087 416h1v1h-1zM1088 415h1v1h-1zM1091 413h1v1h-1zM1092 412h1v1h-1zM1093 411h1v1h-1zM1094 410h1v1h-1zM1097 408h1v1h-1zM1098 407h1v1h-1zM1099 406h1v1h-1zM1100 405h1v1h-1zM1103 403h1v1h-1zM1104 402h1v1h-1zM1107 400h1v1h-1zM1108 399h1v1h-1zM1109 398h1v1h-1zM1110 397h1v1h-1zM1113 395h1v1h-1zM1114 394h1v1h-1zM1115 393h1v1h-1zM1116 392h1v1h-1zM1117 391h1v1h-1zM1118 390h1v1h-1zM1119 389h1v1h-1zM1120 388h1v1h-1zM1121 387h1v1h-1zM1122 386h1v1h-1zM1123 385h1v1h-1zM1124 384h1v1h-1zM1127 382h1v1h-1zM1128 381h1v1h-1zM1131 379h1v1h-1zM1150 369h1v1h-1zM1155 366h1v1h-1zM1158 364h1v1h-1zM1163 361h1v1h-1zM1166 359h1v1h-1z" fill="#0000dd"/>
<path d="M409 143h3v1h-3zM405 144h4v1h-4zM412 144h2v1h-2zM399 145h6v1h-6zM391 146h8v1h-8zM415 146h2v1h-2zM387 147h4v1h-4zM417 147h2v1h-2zM385 148h2v1h-2zM383 149h2v1h-2zM421 150h2v1h-2zM380 151h2v1h-2zM377 152h3v1h-3zM373 153h4v1h-4zM425 153h2v1h-2zM367 154h6v1h-6zM363 155h4v1h-4zM361 156h2v1h-2zM357 159h2v1h-2zM354 161h2v1h-2zM352 162h2v1h-2zM350 163h2v1h-2zM348 164h2v1h-2zM335 165h13v1h-13zM327 166h8v1h-8zM322 167h5v1h-5zM320 168h2v1h-2zM290 169h3v1h-3zM318 169h2v1h-2zM288 170h2v1h-2zM293 170h4v1h-4zM316 170h2v1h-2zM286 171h2v1h-2zM297 171h6v1h-6zM311 171h5v1h-5zM284 172h2v1h-2zM303 172h8v1h-8zM281 174h2v1h-2zM277 177h2v1h-2zM111 213h6v1h-6zM106 214h5v1h-5zM117 214h4v1h-4zM103 215h3v1h-3zM121 215h3v1h-3zM101 216h2v1h-2zM124 216h2v1h-2zM98 217h3v1h-3zM95 218h3v1h-3zM127 218h2v1h-2zM93 219h2v1h-2zM129 219h2v1h-2zM91 220h2v1h-2zM131 220h2v1h-2zM133 221h4v1h-4zM137 222h3v1h-3zM148 231h2v1h-2zM150 232h2v1h-2zM152 233h2v1h-2zM154 234h2v1h-2zM71 243h2v1h-2zM167 246h2v1h-2zM171 249h2v1h-2zM173 250h2v1h-2zM175 251h3v1h-3zM178 252h3v1h-3zM181 253h2v1h-2zM183 254h3v1h-3zM186 255h3v1h-3zM218 255h2v1h-2zM189 256h2v1h-2zM216 256h2v1h-2zM191 257h3v1h-3zM214 257h2v1h-2zM194 258h2v1h-2zM212 258h2v1h-2zM196 259h2v1h-2zM210 259h2v1h-2zM198 260h2v1h-2zM207 260h3v1h-3zM200 261h2v1h-2zM205 261h2v1h-2zM202 262h3v1h-3zM4 266h2v1h-2zM6 267h2v1h-2zM47 267h2v1h-2zM8 268h2v1h-2zM10 269h3v1h-3zM13 270h2v1h-2zM15 271h3v1h-3zM41 271h3v1h-3zM18 272h3v1h-3zM37 272h4v1h-4zM21 273h2v1h-2zM33 273h4v1h-4zM23 274h3v1h-3zM29 274h4v1h-4zM26 275h3v1h-3zM1161 315h11v1h-11zM1157 316h4v1h-4zM1153 317h4v1h-4zM1173 317h2v1h-2zM1149 318h4v1h-4zM1146 319h3v1h-3zM1144 320h2v1h-2zM1177 320h2v1h-2zM1142 321h2v1h-2zM1140 322h2v1h-2zM1130 323h10v1h-10zM1128 324h2v1h-2zM1126 325h2v1h-2zM1124 326h2v1h-2zM1114 327h10v1h-10zM1112 328h2v1h-2zM1110 329h2v1h-2zM1108 330h2v1h-2zM1106 331h2v1h-2zM1103 332h3v1h-3zM1101 333h2v1h-2zM1191 333h2v1h-2zM1099 334h2v1h-2zM793 352h4v1h-4zM789 353h4v1h-4zM797 353h2v1h-2zM787 354h2v1h-2zM799 354h3v1h-3zM802 355h2v1h-2zM804 356h2v1h-2zM806 357h2v1h-2zM808 358h2v1h-2zM810 359h2v1h-2zM815 363h2v1h-2zM820 367h2v1h-2zM822 368h2v1h-2zM824 369h2v1h-2zM826 370h2v1h-2zM1065 382h2v1h-2zM1063 383h2v1h-2zM1060 385h2v1h-2zM1058 386h2v1h-2zM1056 387h2v1h-2zM1054 388h2v1h-2zM1052 389h2v1h-2zM1049 391h2v1h-2zM1047 392h2v1h-2zM1044 394h2v1h-2zM1247 394h2v1h-2zM1253 399h2v1h-2zM1257 402h2v1h-2zM1269 413h2v1h-2zM1273 416h2v1h-2zM1279 421h2v1h-2zM1283 424h2v1h-2zM1285 425h4v1h-4zM1303 425h5v1h-5zM1289 426h14v1h-14zM557 435h2v1h-2zM561 438h2v1h-2zM563 439h4v1h-4zM567 440h5v1h-5zM572 441h2v1h-2zM574 442h2v1h-2zM576 443h2v1h-2zM593 443h6v1h-6zM578 444h5v1h-5zM589 444h4v1h-4zM599 444h13v1h-13zM583 445h6v1h-6zM619 454h2v1h-2zM621 455h4v1h-4zM625 456h4v1h-4zM629 457h4v1h-4zM633 458h6v1h-6zM639 459h5v1h-5zM645 461h2v1h-2zM892 463h2v1h-2zM649 464h2v1h-2zM651 465h2v1h-2zM895 465h2v1h-2zM653 466h2v1h-2zM897 466h2v1h-2zM655 467h3v1h-3zM899 467h2v1h-2zM658 468h2v1h-2zM705 468h2v1h-2zM901 468h4v1h-4zM660 469h2v1h-2zM905 469h4v1h-4zM662 470h2v1h-2zM909 470h2v1h-2zM664 471h2v1h-2zM701 471h2v1h-2zM911 471h3v1h-3zM666 472h2v1h-2zM914 472h2v1h-2zM698 473h2v1h-2zM916 473h2v1h-2zM669 474h2v1h-2zM696 474h2v1h-2zM918 474h2v1h-2zM694 475h2v1h-2zM920 475h2v1h-2zM959 475h21v1h-21zM692 476h2v1h-2zM922 476h2v1h-2zM954 476h5v1h-5zM673 477h2v1h-2zM690 477h2v1h-2zM924 477h2v1h-2zM952 477h2v1h-2zM675 478h2v1h-2zM688 478h2v1h-2zM950 478h2v1h-2zM677 479h2v1h-2zM686 479h2v1h-2zM927 479h2v1h-2zM948 479h2v1h-2zM679 480h3v1h-3zM684 480h2v1h-2zM929 480h2v1h-2zM946 480h2v1h-2zM682 481h2v1h-2zM931 481h2v1h-2zM944 481h2v1h-2zM933 482h2v1h-2zM942 482h2v1h-2zM935 483h3v1h-3zM940 483h2v1h-2zM938 484h2v1h-2zM3 265h1v1h-1zM44 270h1v1h-1zM45 269h1v1h-1zM46 268h1v1h-1zM49 266h1v1h-1zM50 265h1v1h-1zM51 264h1v1h-1zM52 263h1v1h-1zM53 262h1v1h-1zM54 261h1v1h-1zM55 259h1v2h-1zM56 258h1v1h-1zM57 257h1v1h-1zM58 256h1v1h-1zM59 255h1v1h-1zM60 254h1v1h-1zM61 253h1v1h-1zM62 252h1v1h-1zM63 251h1v1h-1zM64 250h1v1h-1zM65 249h1v1h-1zM66 248h1v1h-1zM67 247h1v1h-1zM68 246h1v1h-1zM69 245h1v1h-1zM70 244h1v1h-1zM73 242h1v1h-1zM74 241h1v1h-1zM75 240h1v1h-1zM76 238h1v2h-1zM77 237h1v1h-1zM78 236h1v1h-1zM79 234h1v2h-1zM80 233h1v1h-1zM81 232h1v1h-1zM82 230h1v2h-1zM83 229h1v1h-1zM84 228h1v1h-1zM85 227h1v1h-1zM86 226h1v1h-1zM87 224h1v2h-1zM88 223h1v1h-1zM89 222h1v1h-1zM90 221h1v1h-1zM126 217h1v1h-1zM140 223h1v1h-1zM141 224h1v1h-1zM142 225h1v1h-1zM143 226h1v1h-1zM144 227h1v1h-1zM145 228h1v1h-1zM146 229h1v1h-1zM147 230h1v1h-1zM156 235h1v1h-1zM157 236h1v1h-1zM158 237h1v1h-1zM159 238h1v1h-1zM160 239h1v1h-1zM161 240h1v1h-1zM162 241h1v1h-1zM163 242h1v1h-1zM164 243h1v1h-1zM165 244h1v1h-1zM166 245h1v1h-1zM169 247h1v1h-1zM170 248h1v1h-1zM220 254h1v1h-1zM221 253h1v1h-1zM222 252h1v1h-1zM223 251h1v1h-1zM224 250h1v1h-1zM225 249h1v1h-1zM226 248h1v1h-1zM227 247h1v1h-1zM228 246h1v1h-1zM229 244h1v2h-1zM230 243h1v1h-1zM231 242h1v1h-1zM232 241h1v1h-1zM233 239h1v2h-1zM234 238h1v1h-1zM235 237h1v1h-1zM236 236h1v1h-1zM237 235h1v1h-1zM238 234h1v1h-1zM239 232h1v2h-1zM240 231h1v1h-1zM241 230h1v1h-1zM242 229h1v1h-1zM243 228h1v1h-1zM244 226h1v2h-1zM245 225h1v1h-1zM246 224h1v1h-1zM247 222h1v2h-1zM248 221h1v1h-1zM249 220h1v1h-1zM250 218h1v2h-1zM251 217h1v1h-1zM252 215h1v2h-1zM253 213h1v2h-1zM254 211h1v2h-1zM255 209h1v2h-1zM256 207h1v2h-1zM257 205h1v2h-1zM258 203h1v2h-1zM259 201h1v2h-1zM260 199h1v2h-1zM261 197h1v2h-1zM262 195h1v2h-1zM263 194h1v1h-1zM264 192h1v2h-1zM265 190h1v2h-1zM266 188h1v2h-1zM267 187h1v1h-1zM268 186h1v1h-1zM269 185h1v1h-1zM270 184h1v1h-1zM271 183h1v1h-1zM272 182h1v1h-1zM273 181h1v1h-1zM274 180h1v1h-1zM275 179h1v1h-1zM276 178h1v1h-1zM279 176h1v1h-1zM280 175h1v1h-1zM283 173h1v1h-1zM356 160h1v1h-1zM359 158h1v1h-1zM360 157h1v1h-1zM382 150h1v1h-1zM414 145h1v1h-1zM419 148h1v1h-1zM420 149h1v1h-1zM423 151h1v1h-1zM424 152h1v1h-1zM427 154h1v1h-1zM428 155h1v2h-1zM429 157h1v1h-1zM430 158h1v1h-1zM431 159h1v2h-1zM432 161h1v1h-1zM433 162h1v1h-1zM434 163h1v2h-1zM435 165h1v1h-1zM436 166h1v2h-1zM437 168h1v2h-1zM438 170h1v1h-1zM439 171h1v2h-1zM440 173h1v1h-1zM441 174h1v2h-1zM442 176h1v2h-1zM443 178h1v2h-1zM444 180h1v2h-1zM445 182h1v2h-1zM446 184h1v2h-1zM447 186h1v3h-1zM448 189h1v2h-1zM449 191h1v2h-1zM450 193h1v2h-1zM451 195h1v3h-1zM452 198h1v2h-1zM453 200h1v3h-1zM454 203h1v2h-1zM455 205h1v3h-1zM456 208h1v2h-1zM457 210h1v3h-1zM458 213h1v2h-1zM459 215h1v3h-1zM460 218h1v2h-1zM461 220h1v2h-1zM462 222h1v3h-1zM463 225h1v2h-1zM464 227h1v3h-1zM465 230h1v2h-1zM466 232h1v2h-1zM467 234h1v3h-1zM468 237h1v3h-1zM469 240h1v4h-1zM470 244h1v3h-1zM471 247h1v3h-1zM472 250h1v3h-1zM473 253h1v4h-1zM474 257h1v3h-1zM475 260h1v3h-1zM476 263h1v3h-1zM477 266h1v3h-1zM478 269h1v3h-1zM479 272h1v4h-1zM480 276h1v3h-1zM481 279h1v3h-1zM482 282h1v3h-1zM483 285h1v3h-1zM484 288h1v3h-1zM485 291h1v4h-1zM486 295h1v3h-1zM487 298h1v3h-1zM488 301h1v3h-1zM489 304h1v4h-1zM490 308h1v3h-1zM491 311h1v3h-1zM492 314h1v3h-1zM493 317h1v3h-1zM494 320h1v3h-1zM495 323h1v4h-1zM496 327h1v3h-1zM497 330h1v3h-1zM498 333h1v3h-1zM499 336h1v3h-1zM500 339h1v2h-1zM501 341h1v2h-1zM502 343h1v2h-1zM503 345h1v2h-1zM504 347h1v2h-1zM505 349h1v2h-1zM506 351h1v2h-1zM507 353h1v3h-1zM508 356h1v2h-1zM509 358h1v2h-1zM510 360h1v2h-1zM511 362h1v2h-1zM512 364h1v2h-1zM513 366h1v2h-1zM514 368h1v2h-1zM515 370h1v2h-1zM516 372h1v2h-1zM517 374h1v2h-1zM518 376h1v2h-1zM519 378h1v2h-1zM520 380h1v2h-1zM521 382h1v2h-1zM522 384h1v2h-1zM523 386h1v2h-1zM524 388h1v2h-1zM525 390h1v2h-1zM526 392h1v2h-1zM527 394h1v1h-1zM528 395h1v2h-1zM529 397h1v2h-1zM530 399h1v2h-1zM531 401h1v1h-1zM532 402h1v1h-1zM533 403h1v2h-1zM534 405h1v1h-1zM535 406h1v1h-1zM536 407h1v1h-1zM537 408h1v2h-1zM538 410h1v1h-1zM539 411h1v1h-1zM540 412h1v2h-1zM541 414h1v2h-1zM542 416h1v1h-1zM543 417h1v2h-1zM544 419h1v1h-1zM545 420h1v2h-1zM546 422h1v2h-1zM547 424h1v1h-1zM548 425h1v1h-1zM549 426h1v1h-1zM550 427h1v1h-1zM551 428h1v2h-1zM552 430h1v1h-1zM553 431h1v1h-1zM554 432h1v1h-1zM555 433h1v1h-1zM556 434h1v1h-1zM559 436h1v1h-1zM560 437h1v1h-1zM612 445h1v1h-1zM613 446h1v2h-1zM614 448h1v1h-1zM615 449h1v1h-1zM616 450h1v1h-1zM617 451h1v2h-1zM618 453h1v1h-1zM644 460h1v1h-1zM647 462h1v1h-1zM648 463h1v1h-1zM668 473h1v1h-1zM671 475h1v1h-1zM672 476h1v1h-1zM700 472h1v1h-1zM703 470h1v1h-1zM704 469h1v1h-1zM707 467h1v1h-1zM708 466h1v1h-1zM709 465h1v1h-1zM710 464h1v1h-1zM711 463h1v1h-1zM712 462h1v1h-1zM713 461h1v1h-1zM714 460h1v1h-1zM715 459h1v1h-1zM716 458h1v1h-1zM717 456h1v2h-1zM718 455h1v1h-1zM719 454h1v1h-1zM720 453h1v1h-1zM721 451h1v2h-1zM722 450h1v1h-1zM723 449h1v1h-1zM724 447h1v2h-1zM725 445h1v2h-1zM726 443h1v2h-1zM727 442h1v1h-1zM728 440h1v2h-1zM729 438h1v2h-1zM730 436h1v2h-1zM731 435h1v1h-1zM732 434h1v1h-1zM733 432h1v2h-1zM734 431h1v1h-1zM735 430h1v1h-1zM736 429h1v1h-1zM737 427h1v2h-1zM738 426h1v1h-1zM739 425h1v1h-1zM740 424h1v1h-1zM741 422h1v2h-1zM742 421h1v1h-1zM743 420h1v1h-1zM744 419h1v1h-1zM745 417h1v2h-1zM746 416h1v1h-1zM747 415h1v1h-1zM748 413h1v2h-1zM749 411h1v2h-1zM750 410h1v1h-1zM751 408h1v2h-1zM752 407h1v1h-1zM753 405h1v2h-1zM754 403h1v2h-1zM755 402h1v1h-1zM756 400h1v2h-1zM757 398h1v2h-1zM758 397h1v1h-1zM759 395h1v2h-1zM760 394h1v1h-1zM761 392h1v2h-1zM762 390h1v2h-1zM763 389h1v1h-1zM764 387h1v2h-1zM765 386h1v1h-1zM766 384h1v2h-1zM767 383h1v1h-1zM768 381h1v2h-1zM769 380h1v1h-1zM770 378h1v2h-1zM771 377h1v1h-1zM772 375h1v2h-1zM773 373h1v2h-1zM774 372h1v1h-1zM775 370h1v2h-1zM776 369h1v1h-1zM777 367h1v2h-1zM778 365h1v2h-1zM779 364h1v1h-1zM780 363h1v1h-1zM781 361h1v2h-1zM782 360h1v1h-1zM783 359h1v1h-1zM784 358h1v1h-1zM785 356h1v2h-1zM786 355h1v1h-1zM812 360h1v1h-1zM813 361h1v1h-1zM814 362h1v1h-1zM817 364h1v1h-1zM818 365h1v1h-1zM819 366h1v1h-1zM828 371h1v1h-1zM829 372h1v2h-1zM830 374h1v1h-1zM831 375h1v1h-1zM832 376h1v1h-1zM833 377h1v2h-1zM834 379h1v1h-1zM835 380h1v1h-1zM836 381h1v1h-1zM837 382h1v2h-1zM838 384h1v1h-1zM839 385h1v1h-1zM840 386h1v1h-1zM841 387h1v2h-1zM842 389h1v1h-1zM843 390h1v1h-1zM844 391h1v1h-1zM845 392h1v2h-1zM846 394h1v1h-1zM847 395h1v1h-1zM848 396h1v1h-1zM849 397h1v2h-1zM850 399h1v1h-1zM851 400h1v1h-1zM852 401h1v1h-1zM853 402h1v1h-1zM854 403h1v1h-1zM855 404h1v2h-1zM856 406h1v1h-1zM857 407h1v1h-1zM858 408h1v1h-1zM859 409h1v1h-1zM860 410h1v2h-1zM861 412h1v1h-1zM862 413h1v2h-1zM863 415h1v1h-1zM864 416h1v2h-1zM865 418h1v1h-1zM866 419h1v2h-1zM867 421h1v1h-1zM868 422h1v2h-1zM869 424h1v2h-1zM870 426h1v2h-1zM871 428h1v2h-1zM872 430h1v2h-1zM873 432h1v2h-1zM874 434h1v2h-1zM875 436h1v2h-1zM876 438h1v2h-1zM877 440h1v2h-1zM878 442h1v2h-1zM879 444h1v1h-1zM880 445h1v2h-1zM881 447h1v2h-1zM882 449h1v2h-1zM883 451h1v1h-1zM884 452h1v2h-1zM885 454h1v1h-1zM886 455h1v1h-1zM887 456h1v2h-1zM888 458h1v1h-1zM889 459h1v1h-1zM890 460h1v2h-1zM891 462h1v1h-1zM894 464h1v1h-1zM926 478h1v1h-1zM980 473h1v2h-1zM981 472h1v1h-1zM982 471h1v1h-1zM983 469h1v2h-1zM984 468h1v1h-1zM985 467h1v1h-1zM986 465h1v2h-1zM987 464h1v1h-1zM988 462h1v2h-1zM989 460h1v2h-1zM990 459h1v1h-1zM991 457h1v2h-1zM992 456h1v1h-1zM993 454h1v2h-1zM994 452h1v2h-1zM995 451h1v1h-1zM996 450h1v1h-1zM997 448h1v2h-1zM998 447h1v1h-1zM999 446h1v1h-1zM1000 445h1v1h-1zM1001 443h1v2h-1zM1002 442h1v1h-1zM1003 441h1v1h-1zM1004 440h1v1h-1zM1005 439h1v1h-1zM1006 438h1v1h-1zM1007 436h1v2h-1zM1008 435h1v1h-1zM1009 434h1v1h-1zM1010 433h1v1h-1zM1011 432h1v1h-1zM1012 431h1v1h-1zM1013 430h1v1h-1zM1014 429h1v1h-1zM1015 427h1v2h-1zM1016 426h1v1h-1zM1017 425h1v1h-1zM1018 424h1v1h-1zM1019 423h1v1h-1zM1020 421h1v2h-1zM1021 420h1v1h-1zM1022 419h1v1h-1zM1023 417h1v2h-1zM1024 416h1v1h-1zM1025 415h1v1h-1zM1026 413h1v2h-1zM1027 412h1v1h-1zM1028 411h1v1h-1zM1029 410h1v1h-1zM1030 409h1v1h-1zM1031 408h1v1h-1zM1032 407h1v1h-1zM1033 406h1v1h-1zM1034 405h1v1h-1zM1035 404h1v1h-1zM1036 403h1v1h-1zM1037 402h1v1h-1zM1038 401h1v1h-1zM1039 399h1v2h-1zM1040 398h1v1h-1zM1041 397h1v1h-1zM1042 396h1v1h-1zM1043 395h1v1h-1zM1046 393h1v1h-1zM1051 390h1v1h-1zM1062 384h1v1h-1zM1067 381h1v1h-1zM1068 379h1v2h-1zM1069 378h1v1h-1zM1070 376h1v2h-1zM1071 375h1v1h-1zM1072 373h1v2h-1zM1073 372h1v1h-1zM1074 370h1v2h-1zM1075 369h1v1h-1zM1076 367h1v2h-1zM1077 366h1v1h-1zM1078 364h1v2h-1zM1079 363h1v1h-1zM1080 361h1v2h-1zM1081 360h1v1h-1zM1082 358h1v2h-1zM1083 357h1v1h-1zM1084 355h1v2h-1zM1085 353h1v2h-1zM1086 351h1v2h-1zM1087 350h1v1h-1zM1088 348h1v2h-1zM1089 346h1v2h-1zM1090 344h1v2h-1zM1091 343h1v1h-1zM1092 342h1v1h-1zM1093 341h1v1h-1zM1094 340h1v1h-1zM1095 338h1v2h-1zM1096 337h1v1h-1zM1097 336h1v1h-1zM1098 335h1v1h-1zM1172 316h1v1h-1zM1175 318h1v1h-1zM1176 319h1v1h-1zM1179 321h1v1h-1zM1180 322h1v1h-1zM1181 323h1v1h-1zM1182 324h1v1h-1zM1183 325h1v1h-1zM1184 326h1v1h-1zM1185 327h1v1h-1zM1186 328h1v1h-1zM1187 329h1v1h-1zM1188 330h1v1h-1zM1189 331h1v1h-1zM1190 332h1v1h-1zM1193 334h1v1h-1zM1194 335h1v1h-1zM1195 336h1v1h-1zM1196 337h1v1h-1zM1197 338h1v1h-1zM1198 339h1v1h-1zM1199 340h1v2h-1zM1200 342h1v1h-1zM1201 343h1v1h-1zM1202 344h1v1h-1zM1203 345h1v1h-1zM1204 346h1v1h-1zM1205 347h1v1h-1zM1206 348h1v1h-1zM1207 349h1v2h-1zM1208 351h1v1h-1zM1209 352h1v1h-1zM1210 353h1v1h-1zM1211 354h1v1h-1zM1212 355h1v1h-1zM1213 356h1v1h-1zM1214 357h1v1h-1zM1215 358h1v1h-1zM1216 359h1v1h-1zM1217 360h1v1h-1zM1218 361h1v1h-1zM1219 362h1v1h-1zM1220 363h1v1h-1zM1221 364h1v1h-1zM1222 365h1v1h-1zM1223 366h1v2h-1zM1224 368h1v1h-1zM1225 369h1v1h-1zM1226 370h1v1h-1zM1227 371h1v1h-1zM1228 372h1v1h-1zM1229 373h1v1h-1zM1230 374h1v1h-1zM1231 375h1v2h-1zM1232 377h1v1h-1zM1233 378h1v1h-1zM1234 379h1v1h-1zM1235 380h1v1h-1zM1236 381h1v1h-1zM1237 382h1v2h-1zM1238 384h1v1h-1zM1239 385h1v1h-1zM1240 386h1v1h-1zM1241 387h1v2h-1zM1242 389h1v1h-1zM1243 390h1v1h-1zM1244 391h1v1h-1zM1245 392h1v1h-1zM1246 393h1v1h-1zM1249 395h1v1h-1zM1250 396h1v1h-1zM1251 397h1v1h-1zM1252 398h1v1h-1zM1255 400h1v1h-1zM1256 401h1v1h-1zM1259 403h1v1h-1zM1260 404h1v1h-1zM1261 405h1v1h-1zM1262 406h1v1h-1zM1263 407h1v1h-1zM1264 408h1v1h-1zM1265 409h1v1h-1zM1266 410h1v1h-1zM1267 411h1v1h-1zM1268 412h1v1h-1zM1271 414h1v1h-1zM1272 415h1v1h-1zM1275 417h1v1h-1zM1276 418h1v1h-1zM1277 419h1v1h-1zM1278 420h1v1h-1zM1281 422h1v1h-1zM1282 423h1v1h-1z" fill="#ff0000"/>
<path d="M386 107h3v1h-3zM383 108h3v1h-3zM389 108h2v1h-2zM381 109h2v1h-2zM391 109h3v1h-3zM377 110h4v1h-4zM394 110h2v1h-2zM373 111h4v1h-4zM371 112h2v1h-2zM369 113h2v1h-2zM365 116h2v1h-2zM263 146h5v1h-5zM259 147h4v1h-4zM255 150h2v1h-2zM249 154h3v1h-3zM282 154h2v1h-2zM245 155h4v1h-4zM280 155h2v1h-2zM284 155h2v1h-2zM239 156h6v1h-6zM278 156h2v1h-2zM235 157h4v1h-4zM276 157h2v1h-2zM287 157h2v1h-2zM289 158h2v1h-2zM87 175h2v1h-2zM99 180h2v1h-2zM101 181h2v1h-2zM103 182h3v1h-3zM106 183h2v1h-2zM307 203h2v1h-2zM309 204h4v1h-4zM313 205h3v1h-3zM17 254h2v1h-2zM20 254h2v1h-2zM41 254h3v1h-3zM15 255h2v1h-2zM22 255h2v1h-2zM37 255h4v1h-4zM24 256h2v1h-2zM31 256h6v1h-6zM12 257h2v1h-2zM26 257h5v1h-5zM1107 284h4v1h-4zM1111 285h5v1h-5zM1116 286h2v1h-2zM1118 287h2v1h-2zM1120 288h2v1h-2zM1122 289h3v1h-3zM1125 290h2v1h-2zM1127 291h3v1h-3zM1130 292h2v1h-2zM1143 312h2v1h-2zM157 315h2v1h-2zM161 318h2v1h-2zM767 321h6v1h-6zM762 322h5v1h-5zM773 322h4v1h-4zM759 323h3v1h-3zM777 323h3v1h-3zM757 324h2v1h-2zM755 325h2v1h-2zM746 334h2v1h-2zM744 335h2v1h-2zM742 336h2v1h-2zM740 337h2v1h-2zM1025 341h2v1h-2zM1021 344h2v1h-2zM1052 370h2v1h-2zM1055 372h2v1h-2zM1057 373h2v1h-2zM1063 373h5v1h-5zM1059 374h4v1h-4zM1204 398h2v1h-2zM1218 398h2v1h-2zM1206 399h2v1h-2zM1215 399h3v1h-3zM1208 400h2v1h-2zM1213 400h2v1h-2zM1210 401h3v1h-3zM1223 402h2v1h-2zM1231 409h2v1h-2zM1236 413h2v1h-2zM1238 414h2v1h-2zM1240 415h2v1h-2zM1242 416h2v1h-2zM1251 428h2v1h-2zM1253 429h2v1h-2zM1255 430h3v1h-3zM1258 431h2v1h-2zM1260 432h2v1h-2zM1263 434h2v1h-2zM821 435h2v1h-2zM1265 435h2v1h-2zM1268 437h2v1h-2zM522 438h3v1h-3zM825 438h2v1h-2zM985 438h2v1h-2zM1270 438h2v1h-2zM520 439h2v1h-2zM525 439h4v1h-4zM1272 439h2v1h-2zM518 440h2v1h-2zM529 440h3v1h-3zM1274 440h2v1h-2zM516 441h2v1h-2zM971 441h2v1h-2zM981 441h2v1h-2zM507 442h9v1h-9zM594 442h2v1h-2zM973 442h4v1h-4zM505 443h2v1h-2zM591 443h3v1h-3zM977 443h3v1h-3zM503 444h2v1h-2zM589 444h2v1h-2zM548 445h2v1h-2zM587 445h2v1h-2zM500 446h2v1h-2zM585 446h2v1h-2zM599 446h2v1h-2zM551 447h2v1h-2zM561 447h3v1h-3zM583 447h2v1h-2zM553 448h2v1h-2zM557 448h4v1h-4zM1283 448h2v1h-2zM555 449h2v1h-2zM580 449h2v1h-2zM835 449h2v1h-2zM1285 449h4v1h-4zM837 450h2v1h-2zM1289 450h3v1h-3zM839 451h3v1h-3zM842 452h5v1h-5zM847 453h5v1h-5zM852 454h2v1h-2zM854 455h2v1h-2zM856 456h2v1h-2zM858 457h2v1h-2zM619 471h4v1h-4zM623 472h5v1h-5zM631 476h2v1h-2zM636 480h2v1h-2zM921 480h2v1h-2zM639 482h2v1h-2zM641 483h2v1h-2zM657 483h2v1h-2zM917 483h2v1h-2zM927 483h2v1h-2zM644 485h2v1h-2zM646 486h2v1h-2zM653 486h2v1h-2zM913 486h2v1h-2zM931 486h2v1h-2zM648 487h2v1h-2zM933 487h4v1h-4zM650 488h2v1h-2zM937 488h3v1h-3zM909 489h2v1h-2zM906 491h2v1h-2zM903 492h3v1h-3zM884 493h2v1h-2zM901 493h2v1h-2zM886 494h2v1h-2zM897 494h4v1h-4zM888 495h2v1h-2zM893 495h4v1h-4zM890 496h3v1h-3zM681 500h2v1h-2zM677 503h2v1h-2zM3 267h1v1h-1zM4 266h1v1h-1zM5 265h1v1h-1zM6 264h1v1h-1zM7 262h1v2h-1zM8 261h1v1h-1zM9 260h1v1h-1zM10 259h1v1h-1zM11 258h1v1h-1zM14 256h1v1h-1zM19 253h1v1h-1zM44 252h1v2h-1zM45 251h1v1h-1zM46 250h1v1h-1zM47 248h1v2h-1zM48 247h1v1h-1zM49 246h1v1h-1zM50 244h1v2h-1zM51 242h1v2h-1zM52 240h1v2h-1zM53 238h1v2h-1zM54 235h1v3h-1zM55 233h1v2h-1zM56 230h1v3h-1zM57 228h1v2h-1zM58 226h1v2h-1zM59 224h1v2h-1zM60 222h1v2h-1zM61 220h1v2h-1zM62 218h1v2h-1zM63 216h1v2h-1zM64 214h1v2h-1zM65 212h1v2h-1zM66 210h1v2h-1zM67 208h1v2h-1zM68 207h1v1h-1zM69 206h1v1h-1zM70 205h1v1h-1zM71 203h1v2h-1zM72 202h1v1h-1zM73 201h1v1h-1zM74 200h1v1h-1zM75 198h1v2h-1zM76 196h1v2h-1zM77 193h1v3h-1zM78 191h1v2h-1zM79 188h1v3h-1zM80 186h1v2h-1zM81 183h1v3h-1zM82 181h1v2h-1zM83 179h1v2h-1zM84 178h1v1h-1zM85 177h1v1h-1zM86 176h1v1h-1zM89 174h1v1h-1zM90 173h1v1h-1zM91 172h1v1h-1zM92 173h1v1h-1zM93 174h1v1h-1zM94 175h1v1h-1zM95 176h1v1h-1zM96 177h1v1h-1zM97 178h1v1h-1zM98 179h1v1h-1zM108 184h1v2h-1zM109 186h1v1h-1zM110 187h1v1h-1zM111 188h1v2h-1zM112 190h1v1h-1zM113 191h1v1h-1zM114 192h1v2h-1zM115 194h1v2h-1zM116 196h1v3h-1zM117 199h1v3h-1zM118 202h1v3h-1zM119 205h1v3h-1zM120 208h1v3h-1zM121 211h1v3h-1zM122 214h1v3h-1zM123 217h1v4h-1zM124 221h1v4h-1zM125 225h1v4h-1zM126 229h1v4h-1zM127 233h1v5h-1zM128 238h1v4h-1zM129 242h1v4h-1zM130 246h1v4h-1zM131 250h1v4h-1zM132 254h1v2h-1zM133 256h1v3h-1zM134 259h1v3h-1zM135 262h1v2h-1zM136 264h1v3h-1zM137 267h1v3h-1zM138 270h1v2h-1zM139 272h1v3h-1zM140 275h1v4h-1zM141 279h1v3h-1zM142 282h1v4h-1zM143 286h1v3h-1zM144 289h1v4h-1zM145 293h1v3h-1zM146 296h1v4h-1zM147 300h1v2h-1zM148 302h1v2h-1zM149 304h1v1h-1zM150 305h1v2h-1zM151 307h1v1h-1zM152 308h1v2h-1zM153 310h1v1h-1zM154 311h1v2h-1zM155 313h1v1h-1zM156 314h1v1h-1zM159 316h1v1h-1zM160 317h1v1h-1zM163 319h1v1h-1zM164 317h1v2h-1zM165 315h1v2h-1zM166 313h1v2h-1zM167 312h1v1h-1zM168 310h1v2h-1zM169 308h1v2h-1zM170 306h1v2h-1zM171 305h1v1h-1zM172 303h1v2h-1zM173 302h1v1h-1zM174 300h1v2h-1zM175 299h1v1h-1zM176 297h1v2h-1zM177 296h1v1h-1zM178 294h1v2h-1zM179 292h1v2h-1zM180 289h1v3h-1zM181 286h1v3h-1zM182 283h1v3h-1zM183 279h1v4h-1zM184 276h1v3h-1zM185 273h1v3h-1zM186 270h1v3h-1zM187 267h1v3h-1zM188 265h1v2h-1zM189 262h1v3h-1zM190 259h1v3h-1zM191 257h1v2h-1zM192 254h1v3h-1zM193 251h1v3h-1zM194 249h1v2h-1zM195 246h1v3h-1zM196 244h1v2h-1zM197 241h1v3h-1zM198 239h1v2h-1zM199 236h1v3h-1zM200 234h1v2h-1zM201 231h1v3h-1zM202 229h1v2h-1zM203 227h1v2h-1zM204 225h1v2h-1zM205 223h1v2h-1zM206 221h1v2h-1zM207 219h1v2h-1zM208 217h1v2h-1zM209 215h1v2h-1zM210 213h1v2h-1zM211 210h1v3h-1zM212 208h1v2h-1zM213 205h1v3h-1zM214 203h1v2h-1zM215 200h1v3h-1zM216 198h1v2h-1zM217 195h1v3h-1zM218 193h1v2h-1zM219 190h1v3h-1zM220 188h1v2h-1zM221 186h1v2h-1zM222 183h1v3h-1zM223 181h1v2h-1zM224 178h1v3h-1zM225 176h1v2h-1zM226 174h1v2h-1zM227 172h1v2h-1zM228 170h1v2h-1zM229 168h1v2h-1zM230 166h1v2h-1zM231 164h1v2h-1zM232 162h1v2h-1zM233 160h1v2h-1zM234 158h1v2h-1zM252 153h1v1h-1zM253 152h1v1h-1zM254 151h1v1h-1zM257 149h1v1h-1zM258 148h1v1h-1zM268 147h1v2h-1zM269 149h1v1h-1zM270 150h1v2h-1zM271 152h1v1h-1zM272 153h1v2h-1zM273 155h1v1h-1zM274 156h1v2h-1zM275 158h1v1h-1zM286 156h1v1h-1zM291 159h1v2h-1zM292 161h1v4h-1zM293 165h1v3h-1zM294 168h1v3h-1zM295 171h1v4h-1zM296 175h1v3h-1zM297 178h1v3h-1zM298 181h1v4h-1zM299 185h1v3h-1zM300 188h1v2h-1zM301 190h1v2h-1zM302 192h1v2h-1zM303 194h1v2h-1zM304 196h1v2h-1zM305 198h1v2h-1zM306 200h1v2h-1zM307 202h1v1h-1zM316 203h1v2h-1zM317 202h1v1h-1zM318 201h1v1h-1zM319 199h1v2h-1zM320 198h1v1h-1zM321 197h1v1h-1zM322 195h1v2h-1zM323 194h1v1h-1zM324 192h1v2h-1zM325 191h1v1h-1zM326 189h1v2h-1zM327 188h1v1h-1zM328 186h1v2h-1zM329 185h1v1h-1zM330 183h1v2h-1zM331 181h1v2h-1zM332 177h1v4h-1zM333 173h1v4h-1zM334 170h1v3h-1zM335 166h1v4h-1zM336 163h1v3h-1zM337 159h1v4h-1zM338 155h1v4h-1zM339 153h1v2h-1zM340 151h1v2h-1zM341 149h1v2h-1zM342 147h1v2h-1zM343 146h1v1h-1zM344 144h1v2h-1zM345 142h1v2h-1zM346 140h1v2h-1zM347 139h1v1h-1zM348 138h1v1h-1zM349 136h1v2h-1zM350 135h1v1h-1zM351 134h1v1h-1zM352 133h1v1h-1zM353 131h1v2h-1zM354 130h1v1h-1zM355 129h1v1h-1zM356 127h1v2h-1zM357 126h1v1h-1zM358 125h1v1h-1zM359 123h1v2h-1zM360 122h1v1h-1zM361 121h1v1h-1zM362 119h1v2h-1zM363 118h1v1h-1zM364 117h1v1h-1zM367 115h1v1h-1zM368 114h1v1h-1zM395 111h1v1h-1zM396 112h1v3h-1zM397 115h1v3h-1zM398 118h1v3h-1zM399 121h1v2h-1zM400 123h1v3h-1zM401 126h1v3h-1zM402 129h1v3h-1zM403 132h1v3h-1zM404 135h1v3h-1zM405 138h1v3h-1zM406 141h1v3h-1zM407 144h1v3h-1zM408 147h1v3h-1zM409 150h1v3h-1zM410 153h1v3h-1zM411 156h1v4h-1zM412 160h1v4h-1zM413 164h1v4h-1zM414 168h1v5h-1zM415 173h1v4h-1zM416 177h1v5h-1zM417 182h1v4h-1zM418 186h1v4h-1zM419 190h1v4h-1zM420 194h1v4h-1zM421 198h1v4h-1zM422 202h1v4h-1zM423 206h1v4h-1zM424 210h1v4h-1zM425 214h1v4h-1zM426 218h1v4h-1zM427 222h1v4h-1zM428 226h1v3h-1zM429 229h1v3h-1zM430 232h1v3h-1zM431 235h1v4h-1zM432 239h1v3h-1zM433 242h1v3h-1zM434 245h1v3h-1zM435 248h1v3h-1zM436 251h1v3h-1zM437 254h1v4h-1zM438 258h1v3h-1zM439 261h1v3h-1zM440 264h1v3h-1zM441 267h1v4h-1zM442 271h1v3h-1zM443 274h1v3h-1zM444 277h1v4h-1zM445 281h1v3h-1zM446 284h1v3h-1zM447 287h1v4h-1zM448 291h1v3h-1zM449 294h1v3h-1zM450 297h1v4h-1zM451 301h1v3h-1zM452 304h1v4h-1zM453 308h1v3h-1zM454 311h1v3h-1zM455 314h1v4h-1zM456 318h1v3h-1zM457 321h1v3h-1zM458 324h1v4h-1zM459 328h1v3h-1zM460 331h1v4h-1zM461 335h1v4h-1zM462 339h1v3h-1zM463 342h1v4h-1zM464 346h1v3h-1zM465 349h1v4h-1zM466 353h1v4h-1zM467 357h1v3h-1zM468 360h1v4h-1zM469 364h1v3h-1zM470 367h1v3h-1zM471 370h1v4h-1zM472 374h1v3h-1zM473 377h1v3h-1zM474 380h1v4h-1zM475 384h1v3h-1zM476 387h1v4h-1zM477 391h1v4h-1zM478 395h1v3h-1zM479 398h1v4h-1zM480 402h1v3h-1zM481 405h1v4h-1zM482 409h1v4h-1zM483 413h1v3h-1zM484 416h1v2h-1zM485 418h1v3h-1zM486 421h1v3h-1zM487 424h1v2h-1zM488 426h1v3h-1zM489 429h1v3h-1zM490 432h1v2h-1zM491 434h1v2h-1zM492 436h1v2h-1zM493 438h1v1h-1zM494 439h1v2h-1zM495 441h1v1h-1zM496 442h1v2h-1zM497 444h1v1h-1zM498 445h1v2h-1zM499 447h1v1h-1zM502 445h1v1h-1zM532 439h1v1h-1zM533 437h1v2h-1zM534 436h1v1h-1zM535 435h1v1h-1zM536 434h1v1h-1zM537 432h1v2h-1zM538 431h1v1h-1zM539 430h1v1h-1zM540 431h1v2h-1zM541 433h1v2h-1zM542 435h1v2h-1zM543 437h1v1h-1zM544 438h1v2h-1zM545 440h1v2h-1zM546 442h1v2h-1zM547 444h1v1h-1zM550 446h1v1h-1zM564 446h1v1h-1zM565 445h1v1h-1zM566 444h1v1h-1zM567 443h1v1h-1zM568 442h1v1h-1zM569 441h1v1h-1zM570 440h1v1h-1zM571 439h1v1h-1zM572 440h1v2h-1zM573 442h1v1h-1zM574 443h1v1h-1zM575 444h1v2h-1zM576 446h1v1h-1zM577 447h1v1h-1zM578 448h1v2h-1zM579 450h1v1h-1zM582 448h1v1h-1zM596 443h1v1h-1zM597 444h1v1h-1zM598 445h1v1h-1zM601 447h1v1h-1zM602 448h1v1h-1zM603 449h1v1h-1zM604 450h1v1h-1zM605 451h1v1h-1zM606 452h1v1h-1zM607 453h1v2h-1zM608 455h1v1h-1zM609 456h1v1h-1zM610 457h1v1h-1zM611 458h1v1h-1zM612 459h1v2h-1zM613 461h1v2h-1zM614 463h1v1h-1zM615 464h1v2h-1zM616 466h1v1h-1zM617 467h1v2h-1zM618 469h1v2h-1zM628 473h1v1h-1zM629 474h1v1h-1zM630 475h1v1h-1zM633 477h1v1h-1zM634 478h1v1h-1zM635 479h1v1h-1zM638 481h1v1h-1zM643 484h1v1h-1zM652 487h1v1h-1zM655 485h1v1h-1zM656 484h1v1h-1zM659 482h1v1h-1zM660 483h1v2h-1zM661 485h1v1h-1zM662 486h1v2h-1zM663 488h1v1h-1zM664 489h1v2h-1zM665 491h1v1h-1zM666 492h1v2h-1zM667 494h1v1h-1zM668 495h1v2h-1zM669 497h1v1h-1zM670 498h1v1h-1zM671 499h1v2h-1zM672 501h1v1h-1zM673 502h1v1h-1zM674 503h1v2h-1zM675 505h1v1h-1zM676 504h1v1h-1zM679 502h1v1h-1zM680 501h1v1h-1zM683 499h1v1h-1zM684 497h1v2h-1zM685 495h1v2h-1zM686 493h1v2h-1zM687 491h1v2h-1zM688 489h1v2h-1zM689 487h1v2h-1zM690 485h1v2h-1zM691 482h1v3h-1zM692 479h1v3h-1zM693 477h1v2h-1zM694 474h1v3h-1zM695 471h1v3h-1zM696 468h1v3h-1zM697 466h1v2h-1zM698 463h1v3h-1zM699 460h1v3h-1zM700 456h1v4h-1zM701 452h1v4h-1zM702 448h1v4h-1zM703 444h1v4h-1zM704 440h1v4h-1zM705 436h1v4h-1zM706 432h1v4h-1zM707 427h1v5h-1zM708 423h1v4h-1zM709 419h1v4h-1zM710 415h1v4h-1zM711 410h1v5h-1zM712 406h1v4h-1zM713 402h1v4h-1zM714 398h1v4h-1zM715 394h1v4h-1zM716 391h1v3h-1zM717 387h1v4h-1zM718 384h1v3h-1zM719 381h1v3h-1zM720 378h1v3h-1zM721 374h1v4h-1zM722 371h1v3h-1zM723 369h1v2h-1zM724 367h1v2h-1zM725 365h1v2h-1zM726 363h1v2h-1zM727 361h1v2h-1zM728 359h1v2h-1zM729 357h1v2h-1zM730 355h1v2h-1zM731 354h1v1h-1zM732 352h1v2h-1zM733 350h1v2h-1zM734 348h1v2h-1zM735 346h1v2h-1zM736 344h1v2h-1zM737 342h1v2h-1zM738 340h1v2h-1zM739 338h1v2h-1zM748 333h1v1h-1zM749 332h1v1h-1zM750 331h1v1h-1zM751 329h1v2h-1zM752 328h1v1h-1zM753 327h1v1h-1zM754 326h1v1h-1zM780 324h1v1h-1zM781 325h1v2h-1zM782 327h1v1h-1zM783 328h1v1h-1zM784 329h1v1h-1zM785 330h1v2h-1zM786 332h1v1h-1zM787 333h1v2h-1zM788 335h1v3h-1zM789 338h1v3h-1zM790 341h1v3h-1zM791 344h1v2h-1zM792 346h1v3h-1zM793 349h1v3h-1zM794 352h1v3h-1zM795 355h1v3h-1zM796 358h1v4h-1zM797 362h1v4h-1zM798 366h1v3h-1zM799 369h1v4h-1zM800 373h1v3h-1zM801 376h1v4h-1zM802 380h1v4h-1zM803 384h1v3h-1zM804 387h1v3h-1zM805 390h1v3h-1zM806 393h1v3h-1zM807 396h1v3h-1zM808 399h1v3h-1zM809 402h1v3h-1zM810 405h1v3h-1zM811 408h1v3h-1zM812 411h1v3h-1zM813 414h1v3h-1zM814 417h1v3h-1zM815 420h1v3h-1zM816 423h1v3h-1zM817 426h1v3h-1zM818 429h1v3h-1zM819 432h1v2h-1zM820 434h1v1h-1zM823 436h1v1h-1zM824 437h1v1h-1zM827 439h1v1h-1zM828 440h1v1h-1zM829 441h1v2h-1zM830 443h1v1h-1zM831 444h1v1h-1zM832 445h1v1h-1zM833 446h1v2h-1zM834 448h1v1h-1zM860 458h1v2h-1zM861 460h1v1h-1zM862 461h1v2h-1zM863 463h1v1h-1zM864 464h1v2h-1zM865 466h1v1h-1zM866 467h1v2h-1zM867 469h1v1h-1zM868 470h1v2h-1zM869 472h1v1h-1zM870 473h1v2h-1zM871 475h1v1h-1zM872 476h1v2h-1zM873 478h1v1h-1zM874 479h1v2h-1zM875 481h1v1h-1zM876 482h1v2h-1zM877 484h1v1h-1zM878 485h1v1h-1zM879 486h1v2h-1zM880 488h1v1h-1zM881 489h1v1h-1zM882 490h1v2h-1zM883 492h1v1h-1zM908 490h1v1h-1zM911 488h1v1h-1zM912 487h1v1h-1zM915 485h1v1h-1zM916 484h1v1h-1zM919 482h1v1h-1zM920 481h1v1h-1zM923 479h1v1h-1zM924 480h1v1h-1zM925 481h1v1h-1zM926 482h1v1h-1zM929 484h1v1h-1zM930 485h1v1h-1zM940 487h1v1h-1zM941 485h1v2h-1zM942 484h1v1h-1zM943 483h1v1h-1zM944 482h1v1h-1zM945 480h1v2h-1zM946 479h1v1h-1zM947 478h1v1h-1zM948 476h1v2h-1zM949 474h1v2h-1zM950 472h1v2h-1zM951 470h1v2h-1zM952 468h1v2h-1zM953 466h1v2h-1zM954 464h1v2h-1zM955 462h1v2h-1zM956 460h1v2h-1zM957 459h1v1h-1zM958 457h1v2h-1zM959 456h1v1h-1zM960 454h1v2h-1zM961 453h1v1h-1zM962 451h1v2h-1zM963 450h1v1h-1zM964 449h1v1h-1zM965 448h1v1h-1zM966 447h1v1h-1zM967 445h1v2h-1zM968 444h1v1h-1zM969 443h1v1h-1zM970 442h1v1h-1zM980 442h1v1h-1zM983 440h1v1h-1zM984 439h1v1h-1zM987 437h1v1h-1zM988 435h1v2h-1zM989 433h1v2h-1zM990 431h1v2h-1zM991 429h1v2h-1zM992 427h1v2h-1zM993 425h1v2h-1zM994 423h1v2h-1zM995 421h1v2h-1zM996 419h1v2h-1zM997 417h1v2h-1zM998 414h1v3h-1zM999 412h1v2h-1zM1000 409h1v3h-1zM1001 407h1v2h-1zM1002 405h1v2h-1zM1003 402h1v3h-1zM1004 398h1v4h-1zM1005 394h1v4h-1zM1006 390h1v4h-1zM1007 387h1v3h-1zM1008 383h1v4h-1zM1009 379h1v4h-1zM1010 375h1v4h-1zM1011 372h1v3h-1zM1012 368h1v4h-1zM1013 365h1v3h-1zM1014 362h1v3h-1zM1015 358h1v4h-1zM1016 355h1v3h-1zM1017 352h1v3h-1zM1018 348h1v4h-1zM1019 346h1v2h-1zM1020 345h1v1h-1zM1023 343h1v1h-1zM1024 342h1v1h-1zM1027 340h1v1h-1zM1028 341h1v1h-1zM1029 342h1v1h-1zM1030 343h1v1h-1zM1031 344h1v2h-1zM1032 346h1v1h-1zM1033 347h1v1h-1zM1034 348h1v1h-1zM1035 349h1v1h-1zM1036 350h1v1h-1zM1037 351h1v1h-1zM1038 352h1v1h-1zM1039 353h1v1h-1zM1040 354h1v1h-1zM1041 355h1v1h-1zM1042 356h1v1h-1zM1043 357h1v1h-1zM1044 358h1v2h-1zM1045 360h1v1h-1zM1046 361h1v2h-1zM1047 363h1v1h-1zM1048 364h1v2h-1zM1049 366h1v1h-1zM1050 367h1v2h-1zM1051 369h1v1h-1zM1054 371h1v1h-1zM1067 372h1v1h-1zM1068 370h1v2h-1zM1069 367h1v3h-1zM1070 364h1v3h-1zM1071 362h1v2h-1zM1072 359h1v3h-1zM1073 356h1v3h-1zM1074 354h1v2h-1zM1075 351h1v3h-1zM1076 349h1v2h-1zM1077 347h1v2h-1zM1078 345h1v2h-1zM1079 342h1v3h-1zM1080 340h1v2h-1zM1081 338h1v2h-1zM1082 336h1v2h-1zM1083 333h1v3h-1zM1084 330h1v3h-1zM1085 328h1v2h-1zM1086 325h1v3h-1zM1087 322h1v3h-1zM1088 319h1v3h-1zM1089 317h1v2h-1zM1090 314h1v3h-1zM1091 311h1v3h-1zM1092 309h1v2h-1zM1093 306h1v3h-1zM1094 304h1v2h-1zM1095 301h1v3h-1zM1096 299h1v2h-1zM1097 296h1v3h-1zM1098 294h1v2h-1zM1099 292h1v2h-1zM1100 291h1v1h-1zM1101 290h1v1h-1zM1102 289h1v1h-1zM1103 288h1v1h-1zM1104 287h1v1h-1zM1105 286h1v1h-1zM1106 285h1v1h-1zM1132 293h1v2h-1zM1133 295h1v2h-1zM1134 297h1v2h-1zM1135 299h1v2h-1zM1136 301h1v2h-1zM1137 303h1v2h-1zM1138 305h1v2h-1zM1139 307h1v2h-1zM1140 309h1v1h-1zM1141 310h1v1h-1zM1142 311h1v1h-1zM1145 313h1v1h-1zM1146 314h1v1h-1zM1147 315h1v1h-1zM1148 316h1v2h-1zM1149 318h1v1h-1zM1150 319h1v1h-1zM1151 320h1v2h-1zM1152 322h1v1h-1zM1153 323h1v1h-1zM1154 324h1v2h-1zM1155 326h1v1h-1zM1156 327h1v1h-1zM1157 328h1v1h-1zM1158 329h1v1h-1zM1159 330h1v2h-1zM1160 332h1v1h-1zM1161 333h1v1h-1zM1162 334h1v1h-1zM1163 335h1v1h-1zM1164 336h1v2h-1zM1165 338h1v2h-1zM1166 340h1v2h-1zM1167 342h1v2h-1zM1168 344h1v2h-1zM1169 346h1v2h-1zM1170 348h1v2h-1zM1171 350h1v3h-1zM1172 353h1v2h-1zM1173 355h1v2h-1zM1174 357h1v2h-1zM1175 359h1v2h-1zM1176 361h1v2h-1zM1177 363h1v2h-1zM1178 365h1v2h-1zM1179 367h1v2h-1zM1180 369h1v2h-1zM1181 371h1v1h-1zM1182 372h1v1h-1zM1183 373h1v2h-1zM1184 375h1v1h-1zM1185 376h1v1h-1zM1186 377h1v2h-1zM1187 379h1v1h-1zM1188 380h1v1h-1zM1189 381h1v1h-1zM1190 382h1v1h-1zM1191 383h1v1h-1zM1192 384h1v1h-1zM1193 385h1v1h-1zM1194 386h1v1h-1zM1195 387h1v1h-1zM1196 388h1v1h-1zM1197 389h1v2h-1zM1198 391h1v1h-1zM1199 392h1v1h-1zM1200 393h1v1h-1zM1201 394h1v2h-1zM1202 396h1v1h-1zM1203 397h1v1h-1zM1220 399h1v1h-1zM1221 400h1v1h-1zM1222 401h1v1h-1zM1225 403h1v1h-1zM1226 404h1v1h-1zM1227 405h1v1h-1zM1228 406h1v1h-1zM1229 407h1v1h-1zM1230 408h1v1h-1zM1233 410h1v1h-1zM1234 411h1v1h-1zM1235 412h1v1h-1zM1244 417h1v2h-1zM1245 419h1v1h-1zM1246 420h1v2h-1zM1247 422h1v1h-1zM1248 423h1v2h-1zM1249 425h1v1h-1zM1250 426h1v2h-1zM1262 433h1v1h-1zM1267 436h1v1h-1zM1276 441h1v1h-1zM1277 442h1v1h-1zM1278 443h1v1h-1zM1279 444h1v1h-1zM1280 445h1v1h-1zM1281 446h1v1h-1zM1282 447h1v1h-1zM1292 449h1v1h-1zM1293 448h1v1h-1zM1294 447h1v1h-1zM1295 446h1v1h-1zM1296 445h1v1h-1zM1297 444h1v1h-1zM1298 443h1v1h-1zM1299 442h1v1h-1zM1300 440h1v2h-1zM1301 438h1v2h-1zM1302 437h1v1h-1zM1303 435h1v2h-1zM1304 434h1v1h-1zM1305 432h1v2h-1zM1306 430h1v2h-1zM1307 429h1v1h-1z" fill="#ffa500"/>
<rect x="3" y="153" width="1651" height="2" fill="#ff0000"/>
<rect x="2" y="151" width="6" height="6" fill="#ff0000"/><rect x="4" y="153" width="2" height="2" fill="#ffffff"/>
<rect x="1648" y="151" width="6" height="6" fill="#ff0000"/><rect x="1650" y="153" width="2" height="2" fill="#ffffff"/>
<rect x="3" y="281" width="1651" height="2" fill="#ff0000"/>
<rect x="2" y="279" width="6" height="6" fill="#ff0000"/><rect x="4" y="281" width="2" height="2" fill="#ffffff"/>
<rect x="1648" y="279" width="6" height="6" fill="#ff0000"/><rect x="1650" y="281" width="2" height="2" fill="#ffffff"/>
<rect x="3" y="410" width="1651" height="2" fill="#00ff00"/>
<rect x="2" y="408" width="6" height="6" fill="#00ff00"/><rect x="4" y="410" width="2" height="2" fill="#ffffff"/>
<rect x="1648" y="408" width="6" height="6" fill="#00ff00"/><rect x="1650" y="410" width="2" height="2" fill="#ffffff"/>
<rect x="3" y="576" width="1651" height="2" fill="#0000dd"/>
<path d="M1318,23 L1327,23 L1322.5,28 Z" fill="#c0c0c0"/>
<rect x="2" y="22" width="1653" height="1" fill="#000"/>
<rect x="2" y="592" width="1653" height="1" fill="#000"/>
<rect x="2" y="22" width="1" height="571" fill="#000"/>
<rect x="1654" y="22" width="1" height="571" fill="#000"/>
<rect x="1655" y="28" width="2" height="1" fill="#000"/>
<text x="1660" y="31.6" class="ax">0.70985</text>
<rect x="1655" y="61" width="2" height="1" fill="#000"/>
<text x="1660" y="64.6" class="ax">0.70725</text>
<rect x="1655" y="94" width="2" height="1" fill="#000"/>
<text x="1660" y="97.6" class="ax">0.70470</text>
<rect x="1655" y="127" width="2" height="1" fill="#000"/>
<text x="1660" y="130.6" class="ax">0.70210</text>
<rect x="1655" y="160" width="2" height="1" fill="#000"/>
<text x="1660" y="163.6" class="ax">0.69955</text>
<rect x="1655" y="193" width="2" height="1" fill="#000"/>
<text x="1660" y="196.6" class="ax">0.69695</text>
<rect x="1655" y="226" width="2" height="1" fill="#000"/>
<text x="1660" y="229.6" class="ax">0.69440</text>
<rect x="1655" y="259" width="2" height="1" fill="#000"/>
<text x="1660" y="262.6" class="ax">0.69180</text>
<rect x="1655" y="292" width="2" height="1" fill="#000"/>
<text x="1660" y="295.6" class="ax">0.68925</text>
<rect x="1655" y="325" width="2" height="1" fill="#000"/>
<text x="1660" y="328.6" class="ax">0.68665</text>
<rect x="1655" y="358" width="2" height="1" fill="#000"/>
<text x="1660" y="361.6" class="ax">0.68410</text>
<rect x="1655" y="391" width="2" height="1" fill="#000"/>
<text x="1660" y="394.6" class="ax">0.68150</text>
<rect x="1655" y="424" width="2" height="1" fill="#000"/>
<text x="1660" y="427.6" class="ax">0.67895</text>
<rect x="1655" y="457" width="2" height="1" fill="#000"/>
<text x="1660" y="460.6" class="ax">0.67640</text>
<rect x="1655" y="490" width="2" height="1" fill="#000"/>
<text x="1660" y="493.6" class="ax">0.67380</text>
<rect x="1655" y="523" width="2" height="1" fill="#000"/>
<text x="1660" y="526.6" class="ax">0.67125</text>
<rect x="1655" y="556" width="2" height="1" fill="#000"/>
<text x="1660" y="559.6" class="ax">0.66865</text>
<rect x="1655" y="589" width="2" height="1" fill="#000"/>
<text x="1660" y="592.6" class="ax">0.66610</text>
<rect x="1656" y="149" width="41" height="11" fill="#ff0000"/>
<text x="1660" y="157.6" class="ax" style="fill:#fff">0.70005</text>
<rect x="1656" y="277" width="41" height="11" fill="#ff0000"/>
<text x="1660" y="285.6" class="ax" style="fill:#fff">0.69007</text>
<rect x="1656" y="383" width="41" height="11" fill="#000000"/>
<text x="1660" y="391.6" class="ax" style="fill:#fff">0.68179</text>
<rect x="1656" y="405" width="41" height="11" fill="#00ff00"/>
<text x="1660" y="413.6" class="ax" style="fill:#fff">0.68001</text>
<rect x="1656" y="571" width="41" height="11" fill="#0000dd"/>
<text x="1660" y="579.6" class="ax" style="fill:#fff">0.66705</text>
<rect x="6" y="29" width="7" height="1" fill="#000"/><rect x="7" y="30" width="5" height="1" fill="#000"/><rect x="8" y="31" width="3" height="1" fill="#000"/><rect x="9" y="32" width="1" height="1" fill="#000"/>
<text x="18.6" y="34" class="ax" textLength="68.5" lengthAdjust="spacingAndGlyphs">AUDUSD-,Daily</text>
<text x="93.2" y="34" class="ax" textLength="33" lengthAdjust="spacingAndGlyphs">0.68163</text>
<text x="129" y="34" class="ax" textLength="33" lengthAdjust="spacingAndGlyphs">0.68234</text>
<text x="165.1" y="34" class="ax" textLength="33" lengthAdjust="spacingAndGlyphs">0.68160</text>
<text x="201.1" y="34" class="ax" textLength="33" lengthAdjust="spacingAndGlyphs">0.68179</text>
<rect x="2" y="594" width="1653" height="1" fill="#000"/>
<rect x="2" y="698" width="1653" height="1" fill="#000"/>
<rect x="2" y="594" width="1" height="105" fill="#000"/>
<rect x="1654" y="594" width="1" height="105" fill="#000"/>
<path d="M4 626h3v1h-3zM10 626h3v1h-3zM16 626h3v1h-3zM22 626h3v1h-3zM28 626h3v1h-3zM34 626h3v1h-3zM40 626h3v1h-3zM46 626h3v1h-3zM52 626h3v1h-3zM58 626h3v1h-3zM64 626h3v1h-3zM70 626h3v1h-3zM76 626h3v1h-3zM82 626h3v1h-3zM88 626h3v1h-3zM94 626h3v1h-3zM100 626h3v1h-3zM106 626h3v1h-3zM112 626h3v1h-3zM118 626h3v1h-3zM124 626h3v1h-3zM130 626h3v1h-3zM136 626h3v1h-3zM142 626h3v1h-3zM148 626h3v1h-3zM154 626h3v1h-3zM160 626h3v1h-3zM166 626h3v1h-3zM172 626h3v1h-3zM178 626h3v1h-3zM184 626h3v1h-3zM190 626h3v1h-3zM196 626h3v1h-3zM202 626h3v1h-3zM208 626h3v1h-3zM214 626h3v1h-3zM220 626h3v1h-3zM226 626h3v1h-3zM232 626h3v1h-3zM238 626h3v1h-3zM244 626h3v1h-3zM250 626h3v1h-3zM256 626h3v1h-3zM262 626h3v1h-3zM268 626h3v1h-3zM274 626h3v1h-3zM280 626h3v1h-3zM286 626h3v1h-3zM292 626h3v1h-3zM298 626h3v1h-3zM304 626h3v1h-3zM310 626h3v1h-3zM316 626h3v1h-3zM322 626h3v1h-3zM328 626h3v1h-3zM334 626h3v1h-3zM340 626h3v1h-3zM346 626h3v1h-3zM352 626h3v1h-3zM358 626h3v1h-3zM364 626h3v1h-3zM370 626h3v1h-3zM376 626h3v1h-3zM382 626h3v1h-3zM388 626h3v1h-3zM394 626h3v1h-3zM400 626h3v1h-3zM406 626h3v1h-3zM412 626h3v1h-3zM418 626h3v1h-3zM424 626h3v1h-3zM430 626h3v1h-3zM436 626h3v1h-3zM442 626h3v1h-3zM448 626h3v1h-3zM454 626h3v1h-3zM460 626h3v1h-3zM466 626h3v1h-3zM472 626h3v1h-3zM478 626h3v1h-3zM484 626h3v1h-3zM490 626h3v1h-3zM496 626h3v1h-3zM502 626h3v1h-3zM508 626h3v1h-3zM514 626h3v1h-3zM520 626h3v1h-3zM526 626h3v1h-3zM532 626h3v1h-3zM538 626h3v1h-3zM544 626h3v1h-3zM550 626h3v1h-3zM556 626h3v1h-3zM562 626h3v1h-3zM568 626h3v1h-3zM574 626h3v1h-3zM580 626h3v1h-3zM586 626h3v1h-3zM592 626h3v1h-3zM598 626h3v1h-3zM604 626h3v1h-3zM610 626h3v1h-3zM616 626h3v1h-3zM622 626h3v1h-3zM628 626h3v1h-3zM634 626h3v1h-3zM640 626h3v1h-3zM646 626h3v1h-3zM652 626h3v1h-3zM658 626h3v1h-3zM664 626h3v1h-3zM670 626h3v1h-3zM676 626h3v1h-3zM682 626h3v1h-3zM688 626h3v1h-3zM694 626h3v1h-3zM700 626h3v1h-3zM706 626h3v1h-3zM712 626h3v1h-3zM718 626h3v1h-3zM724 626h3v1h-3zM730 626h3v1h-3zM736 626h3v1h-3zM742 626h3v1h-3zM748 626h3v1h-3zM754 626h3v1h-3zM760 626h3v1h-3zM766 626h3v1h-3zM772 626h3v1h-3zM778 626h3v1h-3zM784 626h3v1h-3zM790 626h3v1h-3zM796 626h3v1h-3zM802 626h3v1h-3zM808 626h3v1h-3zM814 626h3v1h-3zM820 626h3v1h-3zM826 626h3v1h-3zM832 626h3v1h-3zM838 626h3v1h-3zM844 626h3v1h-3zM850 626h3v1h-3zM856 626h3v1h-3zM862 626h3v1h-3zM868 626h3v1h-3zM874 626h3v1h-3zM880 626h3v1h-3zM886 626h3v1h-3zM892 626h3v1h-3zM898 626h3v1h-3zM904 626h3v1h-3zM910 626h3v1h-3zM916 626h3v1h-3zM922 626h3v1h-3zM928 626h3v1h-3zM934 626h3v1h-3zM940 626h3v1h-3zM946 626h3v1h-3zM952 626h3v1h-3zM958 626h3v1h-3zM964 626h3v1h-3zM970 626h3v1h-3zM976 626h3v1h-3zM982 626h3v1h-3zM988 626h3v1h-3zM994 626h3v1h-3zM1000 626h3v1h-3zM1006 626h3v1h-3zM1012 626h3v1h-3zM1018 626h3v1h-3zM1024 626h3v1h-3zM1030 626h3v1h-3zM1036 626h3v1h-3zM1042 626h3v1h-3zM1048 626h3v1h-3zM1054 626h3v1h-3zM1060 626h3v1h-3zM1066 626h3v1h-3zM1072 626h3v1h-3zM1078 626h3v1h-3zM1084 626h3v1h-3zM1090 626h3v1h-3zM1096 626h3v1h-3zM1102 626h3v1h-3zM1108 626h3v1h-3zM1114 626h3v1h-3zM1120 626h3v1h-3zM1126 626h3v1h-3zM1132 626h3v1h-3zM1138 626h3v1h-3zM1144 626h3v1h-3zM1150 626h3v1h-3zM1156 626h3v1h-3zM1162 626h3v1h-3zM1168 626h3v1h-3zM1174 626h3v1h-3zM1180 626h3v1h-3zM1186 626h3v1h-3zM1192 626h3v1h-3zM1198 626h3v1h-3zM1204 626h3v1h-3zM1210 626h3v1h-3zM1216 626h3v1h-3zM1222 626h3v1h-3zM1228 626h3v1h-3zM1234 626h3v1h-3zM1240 626h3v1h-3zM1246 626h3v1h-3zM1252 626h3v1h-3zM1258 626h3v1h-3zM1264 626h3v1h-3zM1270 626h3v1h-3zM1276 626h3v1h-3zM1282 626h3v1h-3zM1288 626h3v1h-3zM1294 626h3v1h-3zM1300 626h3v1h-3zM1306 626h3v1h-3zM1312 626h3v1h-3zM1318 626h3v1h-3zM1324 626h3v1h-3zM1330 626h3v1h-3zM1336 626h3v1h-3zM1342 626h3v1h-3zM1348 626h3v1h-3zM1354 626h3v1h-3zM1360 626h3v1h-3zM1366 626h3v1h-3zM1372 626h3v1h-3zM1378 626h3v1h-3zM1384 626h3v1h-3zM1390 626h3v1h-3zM1396 626h3v1h-3zM1402 626h3v1h-3zM1408 626h3v1h-3zM1414 626h3v1h-3zM1420 626h3v1h-3zM1426 626h3v1h-3zM1432 626h3v1h-3zM1438 626h3v1h-3zM1444 626h3v1h-3zM1450 626h3v1h-3zM1456 626h3v1h-3zM1462 626h3v1h-3zM1468 626h3v1h-3zM1474 626h3v1h-3zM1480 626h3v1h-3zM1486 626h3v1h-3zM1492 626h3v1h-3zM1498 626h3v1h-3zM1504 626h3v1h-3zM1510 626h3v1h-3zM1516 626h3v1h-3zM1522 626h3v1h-3zM1528 626h3v1h-3zM1534 626h3v1h-3zM1540 626h3v1h-3zM1546 626h3v1h-3zM1552 626h3v1h-3zM1558 626h3v1h-3zM1564 626h3v1h-3zM1570 626h3v1h-3zM1576 626h3v1h-3zM1582 626h3v1h-3zM1588 626h3v1h-3zM1594 626h3v1h-3zM1600 626h3v1h-3zM1606 626h3v1h-3zM1612 626h3v1h-3zM1618 626h3v1h-3zM1624 626h3v1h-3zM1630 626h3v1h-3zM1636 626h3v1h-3zM1642 626h3v1h-3zM1648 626h3v1h-3z" fill="#c0c0c0"/>
<path d="M4 667h3v1h-3zM10 667h3v1h-3zM16 667h3v1h-3zM22 667h3v1h-3zM28 667h3v1h-3zM34 667h3v1h-3zM40 667h3v1h-3zM46 667h3v1h-3zM52 667h3v1h-3zM58 667h3v1h-3zM64 667h3v1h-3zM70 667h3v1h-3zM76 667h3v1h-3zM82 667h3v1h-3zM88 667h3v1h-3zM94 667h3v1h-3zM100 667h3v1h-3zM106 667h3v1h-3zM112 667h3v1h-3zM118 667h3v1h-3zM124 667h3v1h-3zM130 667h3v1h-3zM136 667h3v1h-3zM142 667h3v1h-3zM148 667h3v1h-3zM154 667h3v1h-3zM160 667h3v1h-3zM166 667h3v1h-3zM172 667h3v1h-3zM178 667h3v1h-3zM184 667h3v1h-3zM190 667h3v1h-3zM196 667h3v1h-3zM202 667h3v1h-3zM208 667h3v1h-3zM214 667h3v1h-3zM220 667h3v1h-3zM226 667h3v1h-3zM232 667h3v1h-3zM238 667h3v1h-3zM244 667h3v1h-3zM250 667h3v1h-3zM256 667h3v1h-3zM262 667h3v1h-3zM268 667h3v1h-3zM274 667h3v1h-3zM280 667h3v1h-3zM286 667h3v1h-3zM292 667h3v1h-3zM298 667h3v1h-3zM304 667h3v1h-3zM310 667h3v1h-3zM316 667h3v1h-3zM322 667h3v1h-3zM328 667h3v1h-3zM334 667h3v1h-3zM340 667h3v1h-3zM346 667h3v1h-3zM352 667h3v1h-3zM358 667h3v1h-3zM364 667h3v1h-3zM370 667h3v1h-3zM376 667h3v1h-3zM382 667h3v1h-3zM388 667h3v1h-3zM394 667h3v1h-3zM400 667h3v1h-3zM406 667h3v1h-3zM412 667h3v1h-3zM418 667h3v1h-3zM424 667h3v1h-3zM430 667h3v1h-3zM436 667h3v1h-3zM442 667h3v1h-3zM448 667h3v1h-3zM454 667h3v1h-3zM460 667h3v1h-3zM466 667h3v1h-3zM472 667h3v1h-3zM478 667h3v1h-3zM484 667h3v1h-3zM490 667h3v1h-3zM496 667h3v1h-3zM502 667h3v1h-3zM508 667h3v1h-3zM514 667h3v1h-3zM520 667h3v1h-3zM526 667h3v1h-3zM532 667h3v1h-3zM538 667h3v1h-3zM544 667h3v1h-3zM550 667h3v1h-3zM556 667h3v1h-3zM562 667h3v1h-3zM568 667h3v1h-3zM574 667h3v1h-3zM580 667h3v1h-3zM586 667h3v1h-3zM592 667h3v1h-3zM598 667h3v1h-3zM604 667h3v1h-3zM610 667h3v1h-3zM616 667h3v1h-3zM622 667h3v1h-3zM628 667h3v1h-3zM634 667h3v1h-3zM640 667h3v1h-3zM646 667h3v1h-3zM652 667h3v1h-3zM658 667h3v1h-3zM664 667h3v1h-3zM670 667h3v1h-3zM676 667h3v1h-3zM682 667h3v1h-3zM688 667h3v1h-3zM694 667h3v1h-3zM700 667h3v1h-3zM706 667h3v1h-3zM712 667h3v1h-3zM718 667h3v1h-3zM724 667h3v1h-3zM730 667h3v1h-3zM736 667h3v1h-3zM742 667h3v1h-3zM748 667h3v1h-3zM754 667h3v1h-3zM760 667h3v1h-3zM766 667h3v1h-3zM772 667h3v1h-3zM778 667h3v1h-3zM784 667h3v1h-3zM790 667h3v1h-3zM796 667h3v1h-3zM802 667h3v1h-3zM808 667h3v1h-3zM814 667h3v1h-3zM820 667h3v1h-3zM826 667h3v1h-3zM832 667h3v1h-3zM838 667h3v1h-3zM844 667h3v1h-3zM850 667h3v1h-3zM856 667h3v1h-3zM862 667h3v1h-3zM868 667h3v1h-3zM874 667h3v1h-3zM880 667h3v1h-3zM886 667h3v1h-3zM892 667h3v1h-3zM898 667h3v1h-3zM904 667h3v1h-3zM910 667h3v1h-3zM916 667h3v1h-3zM922 667h3v1h-3zM928 667h3v1h-3zM934 667h3v1h-3zM940 667h3v1h-3zM946 667h3v1h-3zM952 667h3v1h-3zM958 667h3v1h-3zM964 667h3v1h-3zM970 667h3v1h-3zM976 667h3v1h-3zM982 667h3v1h-3zM988 667h3v1h-3zM994 667h3v1h-3zM1000 667h3v1h-3zM1006 667h3v1h-3zM1012 667h3v1h-3zM1018 667h3v1h-3zM1024 667h3v1h-3zM1030 667h3v1h-3zM1036 667h3v1h-3zM1042 667h3v1h-3zM1048 667h3v1h-3zM1054 667h3v1h-3zM1060 667h3v1h-3zM1066 667h3v1h-3zM1072 667h3v1h-3zM1078 667h3v1h-3zM1084 667h3v1h-3zM1090 667h3v1h-3zM1096 667h3v1h-3zM1102 667h3v1h-3zM1108 667h3v1h-3zM1114 667h3v1h-3zM1120 667h3v1h-3zM1126 667h3v1h-3zM1132 667h3v1h-3zM1138 667h3v1h-3zM1144 667h3v1h-3zM1150 667h3v1h-3zM1156 667h3v1h-3zM1162 667h3v1h-3zM1168 667h3v1h-3zM1174 667h3v1h-3zM1180 667h3v1h-3zM1186 667h3v1h-3zM1192 667h3v1h-3zM1198 667h3v1h-3zM1204 667h3v1h-3zM1210 667h3v1h-3zM1216 667h3v1h-3zM1222 667h3v1h-3zM1228 667h3v1h-3zM1234 667h3v1h-3zM1240 667h3v1h-3zM1246 667h3v1h-3zM1252 667h3v1h-3zM1258 667h3v1h-3zM1264 667h3v1h-3zM1270 667h3v1h-3zM1276 667h3v1h-3zM1282 667h3v1h-3zM1288 667h3v1h-3zM1294 667h3v1h-3zM1300 667h3v1h-3zM1306 667h3v1h-3zM1312 667h3v1h-3zM1318 667h3v1h-3zM1324 667h3v1h-3zM1330 667h3v1h-3zM1336 667h3v1h-3zM1342 667h3v1h-3zM1348 667h3v1h-3zM1354 667h3v1h-3zM1360 667h3v1h-3zM1366 667h3v1h-3zM1372 667h3v1h-3zM1378 667h3v1h-3zM1384 667h3v1h-3zM1390 667h3v1h-3zM1396 667h3v1h-3zM1402 667h3v1h-3zM1408 667h3v1h-3zM1414 667h3v1h-3zM1420 667h3v1h-3zM1426 667h3v1h-3zM1432 667h3v1h-3zM1438 667h3v1h-3zM1444 667h3v1h-3zM1450 667h3v1h-3zM1456 667h3v1h-3zM1462 667h3v1h-3zM1468 667h3v1h-3zM1474 667h3v1h-3zM1480 667h3v1h-3zM1486 667h3v1h-3zM1492 667h3v1h-3zM1498 667h3v1h-3zM1504 667h3v1h-3zM1510 667h3v1h-3zM1516 667h3v1h-3zM1522 667h3v1h-3zM1528 667h3v1h-3zM1534 667h3v1h-3zM1540 667h3v1h-3zM1546 667h3v1h-3zM1552 667h3v1h-3zM1558 667h3v1h-3zM1564 667h3v1h-3zM1570 667h3v1h-3zM1576 667h3v1h-3zM1582 667h3v1h-3zM1588 667h3v1h-3zM1594 667h3v1h-3zM1600 667h3v1h-3zM1606 667h3v1h-3zM1612 667h3v1h-3zM1618 667h3v1h-3zM1624 667h3v1h-3zM1630 667h3v1h-3zM1636 667h3v1h-3zM1642 667h3v1h-3zM1648 667h3v1h-3z" fill="#c0c0c0"/>
<rect x="1654" y="626" width="1" height="1" fill="#fff"/><rect x="1654" y="667" width="1" height="1" fill="#fff"/>
<path d="M1095 628h5v1h-5zM1089 629h6v1h-6zM1075 630h4v1h-4zM1085 630h4v1h-4zM1073 631h2v1h-2zM1079 631h6v1h-6zM225 632h11v1h-11zM1010 632h3v1h-3zM1103 632h2v1h-2zM221 633h4v1h-4zM737 633h4v1h-4zM754 633h5v1h-5zM1007 633h3v1h-3zM1013 633h4v1h-4zM218 634h3v1h-3zM721 634h6v1h-6zM733 634h4v1h-4zM741 634h2v1h-2zM751 634h3v1h-3zM759 634h5v1h-5zM994 634h5v1h-5zM1005 634h2v1h-2zM1017 634h4v1h-4zM1069 634h2v1h-2zM215 635h3v1h-3zM259 635h4v1h-4zM364 635h2v1h-2zM717 635h4v1h-4zM727 635h6v1h-6zM743 635h3v1h-3zM749 635h2v1h-2zM764 635h2v1h-2zM991 635h3v1h-3zM999 635h6v1h-6zM1021 635h4v1h-4zM1107 635h9v1h-9zM1130 635h2v1h-2zM213 636h2v1h-2zM257 636h2v1h-2zM263 636h5v1h-5zM707 636h10v1h-10zM746 636h3v1h-3zM766 636h2v1h-2zM989 636h2v1h-2zM1025 636h3v1h-3zM1066 636h2v1h-2zM1116 636h2v1h-2zM1128 636h2v1h-2zM211 637h2v1h-2zM255 637h2v1h-2zM337 637h3v1h-3zM367 637h2v1h-2zM705 637h2v1h-2zM768 637h2v1h-2zM775 637h5v1h-5zM987 637h2v1h-2zM1063 637h3v1h-3zM1118 637h2v1h-2zM1126 637h2v1h-2zM83 638h2v1h-2zM209 638h2v1h-2zM323 638h4v1h-4zM333 638h4v1h-4zM340 638h2v1h-2zM369 638h2v1h-2zM703 638h2v1h-2zM770 638h5v1h-5zM1061 638h2v1h-2zM1120 638h2v1h-2zM1124 638h2v1h-2zM81 639h2v1h-2zM85 639h4v1h-4zM207 639h2v1h-2zM252 639h2v1h-2zM327 639h6v1h-6zM342 639h2v1h-2zM371 639h10v1h-10zM1058 639h3v1h-3zM1122 639h2v1h-2zM58 640h2v1h-2zM79 640h2v1h-2zM89 640h3v1h-3zM194 640h3v1h-3zM344 640h2v1h-2zM381 640h4v1h-4zM700 640h2v1h-2zM1031 640h2v1h-2zM1055 640h3v1h-3zM55 641h3v1h-3zM60 641h2v1h-2zM192 641h2v1h-2zM197 641h4v1h-4zM204 641h2v1h-2zM249 641h2v1h-2zM346 641h5v1h-5zM385 641h3v1h-3zM697 641h3v1h-3zM947 641h9v1h-9zM1053 641h2v1h-2zM53 642h2v1h-2zM62 642h2v1h-2zM76 642h2v1h-2zM190 642h2v1h-2zM201 642h3v1h-3zM247 642h2v1h-2zM351 642h5v1h-5zM693 642h4v1h-4zM945 642h2v1h-2zM956 642h2v1h-2zM1047 642h6v1h-6zM51 643h2v1h-2zM64 643h2v1h-2zM71 643h5v1h-5zM188 643h2v1h-2zM389 643h2v1h-2zM691 643h2v1h-2zM1035 643h12v1h-12zM1299 643h9v1h-9zM66 644h5v1h-5zM95 644h2v1h-2zM186 644h2v1h-2zM244 644h2v1h-2zM279 644h6v1h-6zM689 644h2v1h-2zM959 644h2v1h-2zM183 645h3v1h-3zM275 645h4v1h-4zM285 645h4v1h-4zM941 645h2v1h-2zM961 645h2v1h-2zM1139 645h10v1h-10zM181 646h2v1h-2zM289 646h3v1h-3zM313 646h3v1h-3zM393 646h2v1h-2zM1149 646h4v1h-4zM99 647h9v1h-9zM175 647h6v1h-6zM309 647h4v1h-4zM395 647h2v1h-2zM685 647h2v1h-2zM964 647h2v1h-2zM1153 647h6v1h-6zM171 648h4v1h-4zM307 648h2v1h-2zM397 648h2v1h-2zM899 648h2v1h-2zM966 648h2v1h-2zM1159 648h8v1h-8zM35 649h2v1h-2zM109 649h2v1h-2zM305 649h2v1h-2zM399 649h3v1h-3zM789 649h2v1h-2zM897 649h2v1h-2zM901 649h4v1h-4zM968 649h2v1h-2zM975 649h5v1h-5zM1167 649h5v1h-5zM37 650h4v1h-4zM402 650h2v1h-2zM825 650h2v1h-2zM905 650h3v1h-3zM970 650h5v1h-5zM1209 650h2v1h-2zM1212 650h2v1h-2zM41 651h3v1h-3zM167 651h2v1h-2zM404 651h2v1h-2zM908 651h2v1h-2zM1207 651h2v1h-2zM113 652h2v1h-2zM301 652h2v1h-2zM406 652h2v1h-2zM627 652h2v1h-2zM793 652h2v1h-2zM893 652h2v1h-2zM1187 652h10v1h-10zM1215 652h2v1h-2zM115 653h2v1h-2zM408 653h2v1h-2zM629 653h4v1h-4zM821 653h2v1h-2zM911 653h2v1h-2zM1197 653h4v1h-4zM1204 653h2v1h-2zM1217 653h2v1h-2zM7 654h8v1h-8zM117 654h2v1h-2zM410 654h2v1h-2zM593 654h3v1h-3zM633 654h4v1h-4zM796 654h2v1h-2zM913 654h2v1h-2zM1201 654h3v1h-3zM1219 654h2v1h-2zM3 655h4v1h-4zM15 655h6v1h-6zM119 655h3v1h-3zM159 655h5v1h-5zM412 655h2v1h-2zM589 655h4v1h-4zM596 655h2v1h-2zM637 655h4v1h-4zM798 655h2v1h-2zM815 655h5v1h-5zM849 655h12v1h-12zM915 655h4v1h-4zM1183 655h2v1h-2zM1221 655h4v1h-4zM1241 655h4v1h-4zM1258 655h3v1h-3zM21 656h4v1h-4zM122 656h2v1h-2zM155 656h4v1h-4zM567 656h5v1h-5zM586 656h3v1h-3zM598 656h2v1h-2zM641 656h6v1h-6zM800 656h2v1h-2zM807 656h8v1h-8zM845 656h4v1h-4zM861 656h4v1h-4zM919 656h8v1h-8zM1225 656h6v1h-6zM1237 656h4v1h-4zM1245 656h2v1h-2zM1255 656h3v1h-3zM1261 656h2v1h-2zM25 657h3v1h-3zM415 657h2v1h-2zM561 657h6v1h-6zM572 657h2v1h-2zM584 657h2v1h-2zM600 657h2v1h-2zM647 657h8v1h-8zM802 657h5v1h-5zM835 657h10v1h-10zM865 657h3v1h-3zM927 657h5v1h-5zM1231 657h6v1h-6zM1247 657h3v1h-3zM1253 657h2v1h-2zM1263 657h3v1h-3zM125 658h2v1h-2zM417 658h2v1h-2zM540 658h2v1h-2zM557 658h4v1h-4zM574 658h2v1h-2zM582 658h2v1h-2zM602 658h5v1h-5zM655 658h14v1h-14zM1250 658h3v1h-3zM1266 658h13v1h-13zM1287 658h5v1h-5zM138 659h2v1h-2zM151 659h2v1h-2zM419 659h12v1h-12zM554 659h3v1h-3zM576 659h2v1h-2zM580 659h2v1h-2zM607 659h5v1h-5zM669 659h4v1h-4zM1279 659h8v1h-8zM135 660h3v1h-3zM140 660h2v1h-2zM431 660h6v1h-6zM507 660h2v1h-2zM543 660h2v1h-2zM551 660h3v1h-3zM578 660h2v1h-2zM612 660h2v1h-2zM673 660h3v1h-3zM129 661h2v1h-2zM133 661h2v1h-2zM142 661h2v1h-2zM437 661h2v1h-2zM509 661h2v1h-2zM545 661h2v1h-2zM549 661h2v1h-2zM871 661h2v1h-2zM131 662h2v1h-2zM144 662h2v1h-2zM439 662h3v1h-3zM511 662h3v1h-3zM547 662h2v1h-2zM615 662h2v1h-2zM146 663h2v1h-2zM442 663h3v1h-3zM514 663h5v1h-5zM617 663h2v1h-2zM879 663h5v1h-5zM445 664h2v1h-2zM519 664h6v1h-6zM875 664h4v1h-4zM447 665h3v1h-3zM525 665h2v1h-2zM450 666h2v1h-2zM527 666h3v1h-3zM452 667h2v1h-2zM530 667h2v1h-2zM454 668h2v1h-2zM456 669h2v1h-2zM458 670h5v1h-5zM463 671h14v1h-14zM477 672h2v1h-2zM479 673h3v1h-3zM482 674h18v1h-18zM28 656h1v1h-1zM29 655h1v1h-1zM30 654h1v1h-1zM31 653h1v1h-1zM32 652h1v1h-1zM33 651h1v1h-1zM34 650h1v1h-1zM44 650h1v1h-1zM45 649h1v1h-1zM46 648h1v1h-1zM47 647h1v1h-1zM48 646h1v1h-1zM49 645h1v1h-1zM50 644h1v1h-1zM78 641h1v1h-1zM92 641h1v1h-1zM93 642h1v1h-1zM94 643h1v1h-1zM97 645h1v1h-1zM98 646h1v1h-1zM108 648h1v1h-1zM111 650h1v1h-1zM112 651h1v1h-1zM124 657h1v1h-1zM127 659h1v1h-1zM128 660h1v1h-1zM148 662h1v1h-1zM149 661h1v1h-1zM150 660h1v1h-1zM153 658h1v1h-1zM154 657h1v1h-1zM164 654h1v1h-1zM165 653h1v1h-1zM166 652h1v1h-1zM169 650h1v1h-1zM170 649h1v1h-1zM206 640h1v1h-1zM236 633h1v2h-1zM237 635h1v2h-1zM238 637h1v1h-1zM239 638h1v2h-1zM240 640h1v1h-1zM241 641h1v2h-1zM242 643h1v2h-1zM243 645h1v1h-1zM246 643h1v1h-1zM251 640h1v1h-1zM254 638h1v1h-1zM268 637h1v1h-1zM269 638h1v1h-1zM270 639h1v1h-1zM271 640h1v2h-1zM272 642h1v1h-1zM273 643h1v1h-1zM274 644h1v1h-1zM292 647h1v1h-1zM293 648h1v1h-1zM294 649h1v1h-1zM295 650h1v1h-1zM296 651h1v1h-1zM297 652h1v1h-1zM298 653h1v1h-1zM299 654h1v1h-1zM300 653h1v1h-1zM303 651h1v1h-1zM304 650h1v1h-1zM316 645h1v1h-1zM317 644h1v1h-1zM318 643h1v1h-1zM319 642h1v1h-1zM320 641h1v1h-1zM321 640h1v1h-1zM322 639h1v1h-1zM356 641h1v1h-1zM357 640h1v1h-1zM358 639h1v1h-1zM359 638h1v1h-1zM360 637h1v1h-1zM361 636h1v1h-1zM362 635h1v1h-1zM363 634h1v1h-1zM366 636h1v1h-1zM388 642h1v1h-1zM391 644h1v1h-1zM392 645h1v1h-1zM414 656h1v1h-1zM500 672h1v2h-1zM501 670h1v2h-1zM502 668h1v2h-1zM503 667h1v1h-1zM504 665h1v2h-1zM505 663h1v2h-1zM506 661h1v2h-1zM532 666h1v1h-1zM533 664h1v2h-1zM534 663h1v1h-1zM535 662h1v1h-1zM536 661h1v1h-1zM537 659h1v2h-1zM538 658h1v1h-1zM539 657h1v1h-1zM542 659h1v1h-1zM614 661h1v1h-1zM619 664h1v1h-1zM620 662h1v2h-1zM621 661h1v1h-1zM622 659h1v2h-1zM623 658h1v1h-1zM624 656h1v2h-1zM625 655h1v1h-1zM626 653h1v2h-1zM676 658h1v2h-1zM677 657h1v1h-1zM678 656h1v1h-1zM679 654h1v2h-1zM680 653h1v1h-1zM681 652h1v1h-1zM682 650h1v2h-1zM683 649h1v1h-1zM684 648h1v1h-1zM687 646h1v1h-1zM688 645h1v1h-1zM702 639h1v1h-1zM780 638h1v1h-1zM781 639h1v2h-1zM782 641h1v1h-1zM783 642h1v1h-1zM784 643h1v1h-1zM785 644h1v2h-1zM786 646h1v1h-1zM787 647h1v1h-1zM788 648h1v1h-1zM791 650h1v1h-1zM792 651h1v1h-1zM795 653h1v1h-1zM820 654h1v1h-1zM823 652h1v1h-1zM824 651h1v1h-1zM827 649h1v1h-1zM828 650h1v1h-1zM829 651h1v1h-1zM830 652h1v1h-1zM831 653h1v1h-1zM832 654h1v1h-1zM833 655h1v1h-1zM834 656h1v1h-1zM868 658h1v1h-1zM869 659h1v1h-1zM870 660h1v1h-1zM873 662h1v1h-1zM874 663h1v1h-1zM884 662h1v1h-1zM885 661h1v1h-1zM886 660h1v1h-1zM887 658h1v2h-1zM888 657h1v1h-1zM889 656h1v1h-1zM890 655h1v1h-1zM891 654h1v1h-1zM892 653h1v1h-1zM895 651h1v1h-1zM896 650h1v1h-1zM910 652h1v1h-1zM932 656h1v1h-1zM933 654h1v2h-1zM934 653h1v1h-1zM935 652h1v1h-1zM936 651h1v1h-1zM937 649h1v2h-1zM938 648h1v1h-1zM939 647h1v1h-1zM940 646h1v1h-1zM943 644h1v1h-1zM944 643h1v1h-1zM958 643h1v1h-1zM963 646h1v1h-1zM980 647h1v2h-1zM981 646h1v1h-1zM982 644h1v2h-1zM983 643h1v1h-1zM984 641h1v2h-1zM985 640h1v1h-1zM986 638h1v2h-1zM1028 637h1v1h-1zM1029 638h1v1h-1zM1030 639h1v1h-1zM1033 641h1v1h-1zM1034 642h1v1h-1zM1068 635h1v1h-1zM1071 633h1v1h-1zM1072 632h1v1h-1zM1100 629h1v1h-1zM1101 630h1v1h-1zM1102 631h1v1h-1zM1105 633h1v1h-1zM1106 634h1v1h-1zM1132 636h1v1h-1zM1133 637h1v2h-1zM1134 639h1v1h-1zM1135 640h1v1h-1zM1136 641h1v1h-1zM1137 642h1v2h-1zM1138 644h1v1h-1zM1172 650h1v1h-1zM1173 651h1v2h-1zM1174 653h1v1h-1zM1175 654h1v1h-1zM1176 655h1v1h-1zM1177 656h1v2h-1zM1178 658h1v1h-1zM1179 659h1v1h-1zM1180 658h1v1h-1zM1181 657h1v1h-1zM1182 656h1v1h-1zM1185 654h1v1h-1zM1186 653h1v1h-1zM1206 652h1v1h-1zM1211 649h1v1h-1zM1214 651h1v1h-1zM1292 656h1v2h-1zM1293 654h1v2h-1zM1294 652h1v2h-1zM1295 650h1v2h-1zM1296 648h1v2h-1zM1297 646h1v2h-1zM1298 644h1v2h-1z" fill="#1e90ff"/>
<text x="7.4" y="607" class="ax" textLength="66.8" lengthAdjust="spacingAndGlyphs">RSI(14) 53.1701</text>
<text x="1658" y="605.2" class="ax">100</text>
<text x="1657.2" y="630.1" class="ax">70</text>
<text x="1657.2" y="671.1" class="ax">30</text>
<text x="1658" y="695.1" class="ax">0</text>
<rect x="1655" y="596" width="2" height="1" fill="#000"/>
<rect x="2" y="700" width="1653" height="1" fill="#000"/>
<rect x="2" y="804" width="1653" height="1" fill="#000"/>
<rect x="2" y="700" width="1" height="105" fill="#000"/>
<rect x="1654" y="700" width="1" height="105" fill="#000"/>
<rect x="3" y="738" width="1" height="37" fill="#c0c0c0"/>
<rect x="11" y="738" width="1" height="34" fill="#c0c0c0"/>
<rect x="19" y="738" width="1" height="32" fill="#c0c0c0"/>
<rect x="27" y="738" width="1" height="31" fill="#c0c0c0"/>
<rect x="35" y="738" width="1" height="27" fill="#c0c0c0"/>
<rect x="43" y="738" width="1" height="25" fill="#c0c0c0"/>
<rect x="51" y="738" width="1" height="19" fill="#c0c0c0"/>
<rect x="59" y="738" width="1" height="13" fill="#c0c0c0"/>
<rect x="67" y="738" width="1" height="9" fill="#c0c0c0"/>
<rect x="75" y="738" width="1" height="6" fill="#c0c0c0"/>
<rect x="83" y="738" width="1" height="1" fill="#c0c0c0"/>
<rect x="91" y="735" width="1" height="3" fill="#c0c0c0"/>
<rect x="99" y="736" width="1" height="2" fill="#c0c0c0"/>
<rect x="107" y="736" width="1" height="2" fill="#c0c0c0"/>
<rect x="115" y="738" width="1" height="2" fill="#c0c0c0"/>
<rect x="123" y="738" width="1" height="6" fill="#c0c0c0"/>
<rect x="131" y="738" width="1" height="12" fill="#c0c0c0"/>
<rect x="139" y="738" width="1" height="16" fill="#c0c0c0"/>
<rect x="147" y="738" width="1" height="22" fill="#c0c0c0"/>
<rect x="155" y="738" width="1" height="23" fill="#c0c0c0"/>
<rect x="163" y="738" width="1" height="23" fill="#c0c0c0"/>
<rect x="171" y="738" width="1" height="21" fill="#c0c0c0"/>
<rect x="179" y="738" width="1" height="18" fill="#c0c0c0"/>
<rect x="187" y="738" width="1" height="13" fill="#c0c0c0"/>
<rect x="195" y="738" width="1" height="9" fill="#c0c0c0"/>
<rect x="203" y="738" width="1" height="5" fill="#c0c0c0"/>
<rect x="211" y="737" width="1" height="1" fill="#c0c0c0"/>
<rect x="219" y="732" width="1" height="6" fill="#c0c0c0"/>
<rect x="227" y="726" width="1" height="12" fill="#c0c0c0"/>
<rect x="235" y="722" width="1" height="16" fill="#c0c0c0"/>
<rect x="243" y="724" width="1" height="14" fill="#c0c0c0"/>
<rect x="251" y="723" width="1" height="15" fill="#c0c0c0"/>
<rect x="259" y="719" width="1" height="19" fill="#c0c0c0"/>
<rect x="267" y="717" width="1" height="21" fill="#c0c0c0"/>
<rect x="275" y="719" width="1" height="19" fill="#c0c0c0"/>
<rect x="283" y="721" width="1" height="17" fill="#c0c0c0"/>
<rect x="291" y="723" width="1" height="15" fill="#c0c0c0"/>
<rect x="299" y="729" width="1" height="9" fill="#c0c0c0"/>
<rect x="307" y="731" width="1" height="7" fill="#c0c0c0"/>
<rect x="315" y="732" width="1" height="6" fill="#c0c0c0"/>
<rect x="323" y="728" width="1" height="10" fill="#c0c0c0"/>
<rect x="331" y="726" width="1" height="12" fill="#c0c0c0"/>
<rect x="339" y="722" width="1" height="16" fill="#c0c0c0"/>
<rect x="347" y="722" width="1" height="16" fill="#c0c0c0"/>
<rect x="355" y="722" width="1" height="16" fill="#c0c0c0"/>
<rect x="363" y="717" width="1" height="21" fill="#c0c0c0"/>
<rect x="371" y="716" width="1" height="22" fill="#c0c0c0"/>
<rect x="379" y="715" width="1" height="23" fill="#c0c0c0"/>
<rect x="387" y="716" width="1" height="22" fill="#c0c0c0"/>
<rect x="395" y="720" width="1" height="18" fill="#c0c0c0"/>
<rect x="403" y="725" width="1" height="13" fill="#c0c0c0"/>
<rect x="411" y="731" width="1" height="7" fill="#c0c0c0"/>
<rect x="419" y="738" width="1" height="2" fill="#c0c0c0"/>
<rect x="427" y="738" width="1" height="9" fill="#c0c0c0"/>
<rect x="435" y="738" width="1" height="14" fill="#c0c0c0"/>
<rect x="443" y="738" width="1" height="21" fill="#c0c0c0"/>
<rect x="451" y="738" width="1" height="28" fill="#c0c0c0"/>
<rect x="459" y="738" width="1" height="37" fill="#c0c0c0"/>
<rect x="467" y="738" width="1" height="44" fill="#c0c0c0"/>
<rect x="475" y="738" width="1" height="49" fill="#c0c0c0"/>
<rect x="483" y="738" width="1" height="55" fill="#c0c0c0"/>
<rect x="491" y="738" width="1" height="59" fill="#c0c0c0"/>
<rect x="499" y="738" width="1" height="62" fill="#c0c0c0"/>
<rect x="507" y="738" width="1" height="59" fill="#c0c0c0"/>
<rect x="515" y="738" width="1" height="58" fill="#c0c0c0"/>
<rect x="523" y="738" width="1" height="58" fill="#c0c0c0"/>
<rect x="531" y="738" width="1" height="59" fill="#c0c0c0"/>
<rect x="539" y="738" width="1" height="55" fill="#c0c0c0"/>
<rect x="547" y="738" width="1" height="55" fill="#c0c0c0"/>
<rect x="555" y="738" width="1" height="53" fill="#c0c0c0"/>
<rect x="563" y="738" width="1" height="50" fill="#c0c0c0"/>
<rect x="571" y="738" width="1" height="47" fill="#c0c0c0"/>
<rect x="579" y="738" width="1" height="47" fill="#c0c0c0"/>
<rect x="587" y="738" width="1" height="44" fill="#c0c0c0"/>
<rect x="595" y="738" width="1" height="41" fill="#c0c0c0"/>
<rect x="603" y="738" width="1" height="40" fill="#c0c0c0"/>
<rect x="611" y="738" width="1" height="40" fill="#c0c0c0"/>
<rect x="619" y="738" width="1" height="42" fill="#c0c0c0"/>
<rect x="627" y="738" width="1" height="39" fill="#c0c0c0"/>
<rect x="635" y="738" width="1" height="37" fill="#c0c0c0"/>
<rect x="643" y="738" width="1" height="36" fill="#c0c0c0"/>
<rect x="651" y="738" width="1" height="36" fill="#c0c0c0"/>
<rect x="659" y="738" width="1" height="36" fill="#c0c0c0"/>
<rect x="667" y="738" width="1" height="35" fill="#c0c0c0"/>
<rect x="675" y="738" width="1" height="36" fill="#c0c0c0"/>
<rect x="683" y="738" width="1" height="31" fill="#c0c0c0"/>
<rect x="691" y="738" width="1" height="25" fill="#c0c0c0"/>
<rect x="699" y="738" width="1" height="18" fill="#c0c0c0"/>
<rect x="707" y="738" width="1" height="10" fill="#c0c0c0"/>
<rect x="715" y="738" width="1" height="3" fill="#c0c0c0"/>
<rect x="723" y="734" width="1" height="4" fill="#c0c0c0"/>
<rect x="731" y="729" width="1" height="9" fill="#c0c0c0"/>
<rect x="739" y="724" width="1" height="14" fill="#c0c0c0"/>
<rect x="747" y="722" width="1" height="16" fill="#c0c0c0"/>
<rect x="755" y="718" width="1" height="20" fill="#c0c0c0"/>
<rect x="763" y="716" width="1" height="22" fill="#c0c0c0"/>
<rect x="771" y="716" width="1" height="22" fill="#c0c0c0"/>
<rect x="779" y="716" width="1" height="22" fill="#c0c0c0"/>
<rect x="787" y="719" width="1" height="19" fill="#c0c0c0"/>
<rect x="795" y="725" width="1" height="13" fill="#c0c0c0"/>
<rect x="803" y="732" width="1" height="6" fill="#c0c0c0"/>
<rect x="811" y="737" width="1" height="1" fill="#c0c0c0"/>
<rect x="819" y="738" width="1" height="4" fill="#c0c0c0"/>
<rect x="827" y="738" width="1" height="4" fill="#c0c0c0"/>
<rect x="835" y="738" width="1" height="8" fill="#c0c0c0"/>
<rect x="843" y="738" width="1" height="12" fill="#c0c0c0"/>
<rect x="851" y="738" width="1" height="13" fill="#c0c0c0"/>
<rect x="859" y="738" width="1" height="15" fill="#c0c0c0"/>
<rect x="867" y="738" width="1" height="16" fill="#c0c0c0"/>
<rect x="875" y="738" width="1" height="21" fill="#c0c0c0"/>
<rect x="883" y="738" width="1" height="24" fill="#c0c0c0"/>
<rect x="891" y="738" width="1" height="24" fill="#c0c0c0"/>
<rect x="899" y="738" width="1" height="21" fill="#c0c0c0"/>
<rect x="907" y="738" width="1" height="19" fill="#c0c0c0"/>
<rect x="915" y="738" width="1" height="20" fill="#c0c0c0"/>
<rect x="923" y="738" width="1" height="21" fill="#c0c0c0"/>
<rect x="931" y="738" width="1" height="22" fill="#c0c0c0"/>
<rect x="939" y="738" width="1" height="19" fill="#c0c0c0"/>
<rect x="947" y="738" width="1" height="13" fill="#c0c0c0"/>
<rect x="955" y="738" width="1" height="9" fill="#c0c0c0"/>
<rect x="963" y="738" width="1" height="8" fill="#c0c0c0"/>
<rect x="971" y="738" width="1" height="8" fill="#c0c0c0"/>
<rect x="979" y="738" width="1" height="8" fill="#c0c0c0"/>
<rect x="987" y="738" width="1" height="2" fill="#c0c0c0"/>
<rect x="995" y="732" width="1" height="6" fill="#c0c0c0"/>
<rect x="1003" y="728" width="1" height="10" fill="#c0c0c0"/>
<rect x="1011" y="722" width="1" height="16" fill="#c0c0c0"/>
<rect x="1019" y="719" width="1" height="19" fill="#c0c0c0"/>
<rect x="1027" y="717" width="1" height="21" fill="#c0c0c0"/>
<rect x="1035" y="719" width="1" height="19" fill="#c0c0c0"/>
<rect x="1043" y="720" width="1" height="18" fill="#c0c0c0"/>
<rect x="1051" y="721" width="1" height="17" fill="#c0c0c0"/>
<rect x="1059" y="721" width="1" height="17" fill="#c0c0c0"/>
<rect x="1067" y="720" width="1" height="18" fill="#c0c0c0"/>
<rect x="1075" y="715" width="1" height="23" fill="#c0c0c0"/>
<rect x="1083" y="712" width="1" height="26" fill="#c0c0c0"/>
<rect x="1091" y="709" width="1" height="29" fill="#c0c0c0"/>
<rect x="1099" y="706" width="1" height="32" fill="#c0c0c0"/>
<rect x="1107" y="707" width="1" height="31" fill="#c0c0c0"/>
<rect x="1115" y="707" width="1" height="31" fill="#c0c0c0"/>
<rect x="1123" y="709" width="1" height="29" fill="#c0c0c0"/>
<rect x="1131" y="709" width="1" height="29" fill="#c0c0c0"/>
<rect x="1139" y="713" width="1" height="25" fill="#c0c0c0"/>
<rect x="1147" y="716" width="1" height="22" fill="#c0c0c0"/>
<rect x="1155" y="720" width="1" height="18" fill="#c0c0c0"/>
<rect x="1163" y="723" width="1" height="15" fill="#c0c0c0"/>
<rect x="1171" y="727" width="1" height="11" fill="#c0c0c0"/>
<rect x="1179" y="733" width="1" height="5" fill="#c0c0c0"/>
<rect x="1187" y="737" width="1" height="1" fill="#c0c0c0"/>
<rect x="1195" y="738" width="1" height="2" fill="#c0c0c0"/>
<rect x="1203" y="738" width="1" height="5" fill="#c0c0c0"/>
<rect x="1211" y="738" width="1" height="5" fill="#c0c0c0"/>
<rect x="1219" y="738" width="1" height="8" fill="#c0c0c0"/>
<rect x="1227" y="738" width="1" height="10" fill="#c0c0c0"/>
<rect x="1235" y="738" width="1" height="13" fill="#c0c0c0"/>
<rect x="1243" y="738" width="1" height="14" fill="#c0c0c0"/>
<rect x="1251" y="738" width="1" height="16" fill="#c0c0c0"/>
<rect x="1259" y="738" width="1" height="16" fill="#c0c0c0"/>
<rect x="1267" y="738" width="1" height="18" fill="#c0c0c0"/>
<rect x="1275" y="738" width="1" height="19" fill="#c0c0c0"/>
<rect x="1283" y="738" width="1" height="20" fill="#c0c0c0"/>
<rect x="1291" y="738" width="1" height="21" fill="#c0c0c0"/>
<rect x="1299" y="738" width="1" height="17" fill="#c0c0c0"/>
<rect x="1307" y="738" width="1" height="13" fill="#c0c0c0"/>
<path d="M1137 710h3v1h-3zM1143 710h3v1h-3zM1149 710h2v1h-2zM1131 711h3v1h-3zM1155 711h2v1h-2zM1119 712h3v1h-3zM1125 712h2v1h-2zM1113 713h3v1h-3zM1161 713h3v1h-3zM1167 714h2v1h-2zM1107 715h2v1h-2zM1095 716h3v1h-3zM1101 716h2v1h-2zM1173 716h2v1h-2zM1089 717h3v1h-3zM1083 718h3v1h-3zM1179 718h2v1h-2zM1077 719h2v1h-2zM393 720h3v1h-3zM399 720h3v1h-3zM405 720h2v1h-2zM1071 720h2v1h-2zM387 721h3v1h-3zM411 721h3v1h-3zM795 721h3v1h-3zM801 721h3v1h-3zM1065 721h3v1h-3zM1186 721h2v1h-2zM291 722h3v1h-3zM297 722h3v1h-3zM381 722h2v1h-2zM417 722h3v1h-3zM789 722h2v1h-2zM807 722h3v1h-3zM1059 722h3v1h-3zM279 723h3v1h-3zM285 723h2v1h-2zM303 723h3v1h-3zM309 723h2v1h-2zM375 723h2v1h-2zM783 723h2v1h-2zM813 723h3v1h-3zM1053 723h3v1h-3zM1191 723h3v1h-3zM274 724h2v1h-2zM315 724h3v1h-3zM321 724h3v1h-3zM369 724h3v1h-3zM423 724h3v1h-3zM778 724h2v1h-2zM819 724h2v1h-2zM327 725h3v1h-3zM333 725h2v1h-2zM1047 725h3v1h-3zM339 726h3v1h-3zM345 726h3v1h-3zM351 726h3v1h-3zM357 726h3v1h-3zM363 726h2v1h-2zM1198 726h2v1h-2zM267 727h2v1h-2zM430 727h2v1h-2zM771 727h2v1h-2zM826 727h2v1h-2zM1042 727h2v1h-2zM1203 728h2v1h-2zM261 729h2v1h-2zM831 729h3v1h-3zM436 730h2v1h-2zM1035 730h2v1h-2zM256 731h2v1h-2zM1029 731h3v1h-3zM1210 731h2v1h-2zM838 732h2v1h-2zM442 733h2v1h-2zM1024 733h2v1h-2zM1215 733h3v1h-3zM250 734h2v1h-2zM759 734h2v1h-2zM844 735h2v1h-2zM1221 735h2v1h-2zM1018 736h2v1h-2zM243 737h2v1h-2zM1227 737h2v1h-2zM753 738h2v1h-2zM850 738h2v1h-2zM238 739h2v1h-2zM1011 739h2v1h-2zM855 740h3v1h-3zM1234 740h2v1h-2zM123 741h3v1h-3zM129 741h3v1h-3zM135 741h3v1h-3zM453 741h2v1h-2zM748 741h2v1h-2zM1006 741h2v1h-2zM117 742h2v1h-2zM141 742h3v1h-3zM232 742h2v1h-2zM861 742h2v1h-2zM1239 742h3v1h-3zM111 743h3v1h-3zM147 743h2v1h-2zM867 744h2v1h-2zM999 744h3v1h-3zM1245 744h3v1h-3zM106 745h2v1h-2zM153 745h3v1h-3zM226 745h2v1h-2zM1251 745h2v1h-2zM741 746h2v1h-2zM994 746h2v1h-2zM159 747h3v1h-3zM874 747h2v1h-2zM1257 747h3v1h-3zM99 748h2v1h-2zM220 748h2v1h-2zM1263 748h2v1h-2zM165 749h2v1h-2zM879 749h3v1h-3zM987 749h2v1h-2zM1269 749h2v1h-2zM94 750h2v1h-2zM735 750h2v1h-2zM981 750h3v1h-3zM1275 750h2v1h-2zM171 751h2v1h-2zM213 751h2v1h-2zM885 751h3v1h-3zM975 751h3v1h-3zM891 752h2v1h-2zM969 752h3v1h-3zM1281 752h3v1h-3zM87 753h3v1h-3zM177 753h3v1h-3zM207 753h2v1h-2zM1287 753h3v1h-3zM1293 753h2v1h-2zM183 754h3v1h-3zM189 754h3v1h-3zM195 754h3v1h-3zM201 754h3v1h-3zM729 754h2v1h-2zM897 754h3v1h-3zM963 754h2v1h-2zM1299 754h3v1h-3zM1305 754h3v1h-3zM82 755h2v1h-2zM903 755h3v1h-3zM909 755h2v1h-2zM957 755h3v1h-3zM471 756h2v1h-2zM915 756h3v1h-3zM951 756h3v1h-3zM724 757h2v1h-2zM921 757h3v1h-3zM945 757h3v1h-3zM76 758h2v1h-2zM927 758h3v1h-3zM933 758h3v1h-3zM939 758h3v1h-3zM69 761h2v1h-2zM64 763h2v1h-2zM711 764h3v1h-3zM58 766h2v1h-2zM706 766h2v1h-2zM51 769h2v1h-2zM699 769h2v1h-2zM46 771h2v1h-2zM489 771h2v1h-2zM693 771h2v1h-2zM687 773h2v1h-2zM39 774h2v1h-2zM675 774h3v1h-3zM681 774h3v1h-3zM34 775h2v1h-2zM663 775h3v1h-3zM669 775h2v1h-2zM657 776h3v1h-3zM651 777h3v1h-3zM27 778h2v1h-2zM639 778h3v1h-3zM645 778h2v1h-2zM21 779h3v1h-3zM633 779h3v1h-3zM627 780h3v1h-3zM15 781h2v1h-2zM621 781h3v1h-3zM9 782h3v1h-3zM615 782h3v1h-3zM609 783h3v1h-3zM3 784h2v1h-2zM508 784h2v1h-2zM603 785h2v1h-2zM597 786h3v1h-3zM514 787h2v1h-2zM591 788h2v1h-2zM585 789h3v1h-3zM520 790h2v1h-2zM579 791h2v1h-2zM525 792h3v1h-3zM573 792h2v1h-2zM531 793h3v1h-3zM567 793h2v1h-2zM537 794h3v1h-3zM561 794h3v1h-3zM543 795h3v1h-3zM549 795h3v1h-3zM555 795h3v1h-3zM5 783h1v1h-1zM17 780h1v1h-1zM29 777h1v1h-1zM33 776h1v1h-1zM41 773h1v1h-1zM45 772h1v1h-1zM53 768h1v1h-1zM57 767h1v1h-1zM63 764h1v1h-1zM71 760h1v1h-1zM75 759h1v1h-1zM81 756h1v1h-1zM93 751h1v1h-1zM101 747h1v1h-1zM105 746h1v1h-1zM119 741h1v1h-1zM149 744h1v1h-1zM167 750h1v1h-1zM173 752h1v1h-1zM209 752h1v1h-1zM215 750h1v1h-1zM219 749h1v1h-1zM225 746h1v1h-1zM231 743h1v1h-1zM237 740h1v1h-1zM245 736h1v1h-1zM249 735h1v1h-1zM255 732h1v1h-1zM263 728h1v1h-1zM269 726h1v1h-1zM273 725h1v1h-1zM287 722h1v1h-1zM311 724h1v1h-1zM335 726h1v1h-1zM365 725h1v1h-1zM377 722h1v1h-1zM383 721h1v1h-1zM407 721h1v1h-1zM429 726h1v1h-1zM435 729h1v1h-1zM441 732h1v1h-1zM447 736h1v1h-1zM448 737h1v1h-1zM449 738h1v1h-1zM455 742h1v1h-1zM459 745h1v1h-1zM460 746h1v1h-1zM461 747h1v1h-1zM465 750h1v1h-1zM466 751h1v1h-1zM467 752h1v1h-1zM473 757h1v1h-1zM477 761h1v1h-1zM478 762h1v1h-1zM479 763h1v1h-1zM483 766h1v1h-1zM484 767h1v1h-1zM485 768h1v1h-1zM491 772h1v1h-1zM495 775h1v1h-1zM496 776h1v1h-1zM497 777h1v1h-1zM501 779h1v1h-1zM502 780h1v1h-1zM503 781h1v1h-1zM507 783h1v1h-1zM513 786h1v1h-1zM519 789h1v1h-1zM569 792h1v1h-1zM575 791h1v1h-1zM581 790h1v1h-1zM593 787h1v1h-1zM605 784h1v1h-1zM647 777h1v1h-1zM671 774h1v1h-1zM689 772h1v1h-1zM695 770h1v1h-1zM701 768h1v1h-1zM705 767h1v1h-1zM717 762h1v1h-1zM718 761h1v1h-1zM719 760h1v1h-1zM723 758h1v1h-1zM731 753h1v1h-1zM737 749h1v1h-1zM743 745h1v1h-1zM747 742h1v1h-1zM755 737h1v1h-1zM761 733h1v1h-1zM765 731h1v1h-1zM766 730h1v1h-1zM767 729h1v1h-1zM773 726h1v1h-1zM777 725h1v1h-1zM785 722h1v1h-1zM791 721h1v1h-1zM821 725h1v1h-1zM825 726h1v1h-1zM837 731h1v1h-1zM843 734h1v1h-1zM849 737h1v1h-1zM863 743h1v1h-1zM869 745h1v1h-1zM873 746h1v1h-1zM893 753h1v1h-1zM911 756h1v1h-1zM965 753h1v1h-1zM989 748h1v1h-1zM993 747h1v1h-1zM1005 742h1v1h-1zM1013 738h1v1h-1zM1017 737h1v1h-1zM1023 734h1v1h-1zM1037 729h1v1h-1zM1041 728h1v1h-1zM1073 719h1v1h-1zM1079 718h1v1h-1zM1103 715h1v1h-1zM1109 714h1v1h-1zM1127 711h1v1h-1zM1151 711h1v1h-1zM1157 712h1v1h-1zM1169 715h1v1h-1zM1175 717h1v1h-1zM1181 719h1v1h-1zM1185 720h1v1h-1zM1197 725h1v1h-1zM1205 729h1v1h-1zM1209 730h1v1h-1zM1223 736h1v1h-1zM1229 738h1v1h-1zM1233 739h1v1h-1zM1253 746h1v1h-1zM1265 749h1v1h-1zM1271 750h1v1h-1zM1277 751h1v1h-1zM1295 754h1v1h-1z" fill="#ff0000"/>
<text x="7.5" y="713" class="ax" textLength="153.2" lengthAdjust="spacingAndGlyphs">MACD(12,26,9) -0.001174 -0.001559</text>
<text x="1658" y="711.3000000000001" class="ax">0.00349</text>
<text x="1658" y="742.1" class="ax">0.00</text>
<text x="1658" y="801.1" class="ax">-0.00637</text>
<rect x="1655" y="701" width="2" height="1" fill="#000"/>
<rect x="1655" y="738" width="2" height="1" fill="#000"/>
<rect x="3" y="805" width="1" height="3" fill="#000"/>
<text x="0" y="0" transform="translate(1.9,817) scale(1.045,1)" class="ax">27 May 2019</text>
<rect x="67" y="805" width="1" height="3" fill="#000"/>
<text x="0" y="0" transform="translate(65.9,817) scale(1.045,1)" class="ax">5 Jun 2019</text>
<rect x="131" y="805" width="1" height="3" fill="#000"/>
<text x="0" y="0" transform="translate(129.9,817) scale(1.045,1)" class="ax">14 Jun 2019</text>
<rect x="195" y="805" width="1" height="3" fill="#000"/>
<text x="0" y="0" transform="translate(193.9,817) scale(1.045,1)" class="ax">24 Jun 2019</text>
<rect x="259" y="805" width="1" height="3" fill="#000"/>
<text x="0" y="0" transform="translate(257.9,817) scale(1.045,1)" class="ax">3 Jul 2019</text>
<rect x="323" y="805" width="1" height="3" fill="#000"/>
<text x="0" y="0" transform="translate(321.9,817) scale(1.045,1)" class="ax">12 Jul 2019</text>
<rect x="387" y="805" width="1" height="3" fill="#000"/>
<text x="0" y="0" transform="translate(385.9,817) scale(1.045,1)" class="ax">22 Jul 2019</text>
<rect x="451" y="805" width="1" height="3" fill="#000"/>
<text x="0" y="0" transform="translate(449.9,817) scale(1.045,1)" class="ax">31 Jul 2019</text>
<rect x="515" y="805" width="1" height="3" fill="#000"/>
<text x="0" y="0" transform="translate(513.9,817) scale(1.045,1)" class="ax">9 Aug 2019</text>
<rect x="579" y="805" width="1" height="3" fill="#000"/>
<text x="0" y="0" transform="translate(577.9,817) scale(1.045,1)" class="ax">19 Aug 2019</text>
<rect x="643" y="805" width="1" height="3" fill="#000"/>
<text x="0" y="0" transform="translate(641.9,817) scale(1.045,1)" class="ax">28 Aug 2019</text>
<rect x="707" y="805" width="1" height="3" fill="#000"/>
<text x="0" y="0" transform="translate(705.9,817) scale(1.045,1)" class="ax">6 Sep 2019</text>
<rect x="771" y="805" width="1" height="3" fill="#000"/>
<text x="0" y="0" transform="translate(769.9,817) scale(1.045,1)" class="ax">16 Sep 2019</text>
<rect x="835" y="805" width="1" height="3" fill="#000"/>
<text x="0" y="0" transform="translate(833.9,817) scale(1.045,1)" class="ax">25 Sep 2019</text>
<rect x="899" y="805" width="1" height="3" fill="#000"/>
<text x="0" y="0" transform="translate(897.9,817) scale(1.045,1)" class="ax">4 Oct 2019</text>
<rect x="963" y="805" width="1" height="3" fill="#000"/>
<text x="0" y="0" transform="translate(961.9,817) scale(1.045,1)" class="ax">14 Oct 2019</text>
<rect x="1027" y="805" width="1" height="3" fill="#000"/>
<text x="0" y="0" transform="translate(1025.9,817) scale(1.045,1)" class="ax">23 Oct 2019</text>
<rect x="1091" y="805" width="1" height="3" fill="#000"/>
<text x="0" y="0" transform="translate(1089.9,817) scale(1.045,1)" class="ax">1 Nov 2019</text>
<rect x="1155" y="805" width="1" height="3" fill="#000"/>
<text x="0" y="0" transform="translate(1153.9,817) scale(1.045,1)" class="ax">11 Nov 2019</text>
<rect x="1219" y="805" width="1" height="3" fill="#000"/>
<text x="0" y="0" transform="translate(1217.9,817) scale(1.045,1)" class="ax">20 Nov 2019</text>
<rect x="1283" y="805" width="1" height="3" fill="#000"/>
<text x="0" y="0" transform="translate(1281.9,817) scale(1.045,1)" class="ax">29 Nov 2019</text>
<rect x="0" y="825" width="1698" height="1" fill="#d4d0c8"/>
<rect x="0" y="828" width="1698" height="19" fill="#d4d0c8"/>
<rect x="0" y="827" width="105" height="1" fill="#000"/>
<rect x="204" y="827" width="1494" height="1" fill="#000"/>
<rect x="105" y="826" width="98" height="19" fill="#ffffff"/>
<rect x="104" y="827" width="1" height="19" fill="#000"/>
<rect x="203" y="827" width="1" height="19" fill="#000"/>
<rect x="104" y="845" width="100" height="1" fill="#000"/>
<text x="15" y="0" transform="translate(0,839) scale(1,1.2)" class="tab" style="fill:#404040" textLength="77.5" lengthAdjust="spacingAndGlyphs">EURUSD-,Daily</text>
<text x="115" y="0" transform="translate(0,839) scale(1,1.2)" class="tab" style="fill:#000" textLength="77.5" lengthAdjust="spacingAndGlyphs">AUDUSD-,Daily</text>
<text x="215" y="0" transform="translate(0,839) scale(1,1.2)" class="tab" style="fill:#404040" textLength="77.5" lengthAdjust="spacingAndGlyphs">USDCHF-,Daily</text>
<text x="315" y="0" transform="translate(0,839) scale(1,1.2)" class="tab" style="fill:#404040" textLength="77.5" lengthAdjust="spacingAndGlyphs">USDCAD-,Daily</text>
<text x="415" y="0" transform="translate(0,839) scale(1,1.2)" class="tab" style="fill:#404040" textLength="77.5" lengthAdjust="spacingAndGlyphs">USDCNH-,Daily</text>
<rect x="305" y="830" width="1" height="13" fill="#404040"/>
<rect x="405" y="830" width="1" height="13" fill="#404040"/>
<rect x="505" y="830" width="1" height="13" fill="#404040"/>
<path d="M1673.5,832.5 L1669.5,836 L1673.5,839.5 Z" fill="#a0a0a0"/><path d="M1689,832.5 L1693,836 L1689,839.5 Z" fill="#a0a0a0"/>
</svg>
</body></html>
